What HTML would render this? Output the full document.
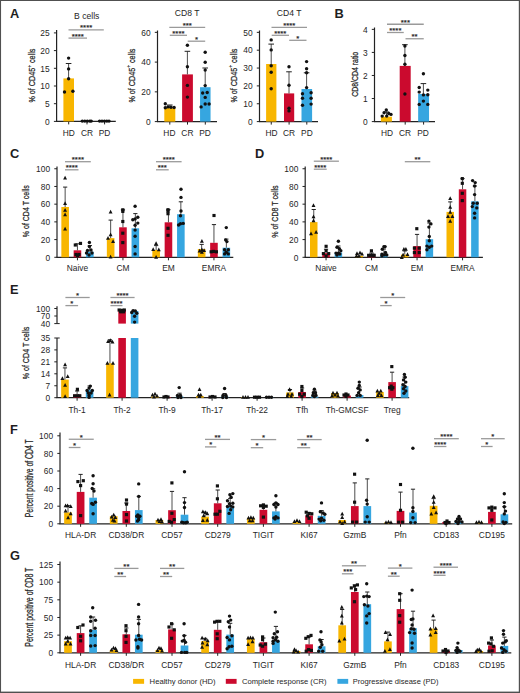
<!DOCTYPE html>
<html><head><meta charset="utf-8"><style>
html,body{margin:0;padding:0;background:#fff;overflow:hidden;width:520px;height:693px;}
svg{display:block;font-family:"Liberation Sans",sans-serif;}
</style></head><body>
<svg width="520" height="693" viewBox="0 0 520 693">
<rect x="0" y="0" width="520" height="693" fill="#fff"/>
<text x="9.90" y="17.60" font-size="12.8" text-anchor="start" font-weight="bold" fill="#1e1e1e">A</text>
<text x="86.70" y="18.60" font-size="8.6" text-anchor="middle" font-weight="normal" fill="#262626">B cells</text>
<line x1="56.60" y1="30.00" x2="56.60" y2="121.40" stroke="#222222" stroke-width="1.2"/>
<line x1="53.90" y1="32.90" x2="56.60" y2="32.90" stroke="#222222" stroke-width="1.0"/>
<text x="49.70" y="36.10" font-size="8.4" text-anchor="end" font-weight="normal" fill="#262626">25</text>
<line x1="53.90" y1="50.60" x2="56.60" y2="50.60" stroke="#222222" stroke-width="1.0"/>
<text x="49.70" y="53.80" font-size="8.4" text-anchor="end" font-weight="normal" fill="#262626">20</text>
<line x1="53.90" y1="68.30" x2="56.60" y2="68.30" stroke="#222222" stroke-width="1.0"/>
<text x="49.70" y="71.50" font-size="8.4" text-anchor="end" font-weight="normal" fill="#262626">15</text>
<line x1="53.90" y1="86.00" x2="56.60" y2="86.00" stroke="#222222" stroke-width="1.0"/>
<text x="49.70" y="89.20" font-size="8.4" text-anchor="end" font-weight="normal" fill="#262626">10</text>
<line x1="53.90" y1="103.70" x2="56.60" y2="103.70" stroke="#222222" stroke-width="1.0"/>
<text x="49.70" y="106.90" font-size="8.4" text-anchor="end" font-weight="normal" fill="#262626">5</text>
<line x1="53.90" y1="121.40" x2="56.60" y2="121.40" stroke="#222222" stroke-width="1.0"/>
<text x="49.70" y="124.60" font-size="8.4" text-anchor="end" font-weight="normal" fill="#262626">0</text>
<line x1="56.00" y1="121.40" x2="115.80" y2="121.40" stroke="#222222" stroke-width="1.2"/>
<line x1="68.70" y1="121.40" x2="68.70" y2="124.40" stroke="#222222" stroke-width="1.0"/>
<line x1="87.00" y1="121.40" x2="87.00" y2="124.40" stroke="#222222" stroke-width="1.0"/>
<line x1="104.60" y1="121.40" x2="104.60" y2="124.40" stroke="#222222" stroke-width="1.0"/>
<rect x="63.40" y="78.40" width="10.60" height="43.00" fill="#F8B600"/>
<line x1="68.60" y1="63.50" x2="68.60" y2="78.40" stroke="#3a3a3a" stroke-width="0.9"/>
<line x1="65.80" y1="63.50" x2="71.40" y2="63.50" stroke="#222" stroke-width="1.0"/>
<circle cx="68.60" cy="58.10" r="1.7" fill="#111"/>
<circle cx="68.60" cy="68.90" r="1.7" fill="#111"/>
<circle cx="68.60" cy="78.70" r="1.7" fill="#111"/>
<circle cx="64.50" cy="92.00" r="1.7" fill="#111"/>
<circle cx="72.90" cy="91.30" r="1.7" fill="#111"/>
<circle cx="82.30" cy="121.10" r="1.7" fill="#111"/>
<circle cx="84.80" cy="121.10" r="1.7" fill="#111"/>
<circle cx="87.30" cy="121.10" r="1.7" fill="#111"/>
<circle cx="89.80" cy="121.10" r="1.7" fill="#111"/>
<circle cx="91.20" cy="121.10" r="1.7" fill="#111"/>
<circle cx="99.60" cy="121.10" r="1.7" fill="#111"/>
<circle cx="102.00" cy="121.10" r="1.7" fill="#111"/>
<circle cx="104.40" cy="121.10" r="1.7" fill="#111"/>
<circle cx="106.80" cy="121.10" r="1.7" fill="#111"/>
<circle cx="109.00" cy="121.10" r="1.7" fill="#111"/>
<line x1="68.50" y1="29.90" x2="103.80" y2="29.90" stroke="#9a9a9a" stroke-width="1.3"/>
<text x="86.15" y="30.00" font-size="7.8" text-anchor="middle" font-weight="normal" fill="#222" stroke="#222" stroke-width="0.2">****</text>
<line x1="68.50" y1="38.10" x2="87.00" y2="38.10" stroke="#9a9a9a" stroke-width="1.3"/>
<text x="77.75" y="39.00" font-size="7.8" text-anchor="middle" font-weight="normal" fill="#222" stroke="#222" stroke-width="0.2">****</text>
<text transform="translate(34.80,75.60) rotate(-90)" font-size="9.2" text-anchor="middle" font-weight="normal" fill="#262626" textLength="54.00" lengthAdjust="spacingAndGlyphs" stroke="#262626" stroke-width="0.25">% of CD45<tspan font-size="6.2" dy="-4.2">+</tspan><tspan dy="4.2"> cells</tspan></text>
<text x="68.70" y="135.90" font-size="8.4" text-anchor="middle" font-weight="normal" fill="#262626">HD</text>
<text x="87.00" y="135.90" font-size="8.4" text-anchor="middle" font-weight="normal" fill="#262626">CR</text>
<text x="104.60" y="135.90" font-size="8.4" text-anchor="middle" font-weight="normal" fill="#262626">PD</text>
<text x="187.10" y="16.30" font-size="8.6" text-anchor="middle" font-weight="normal" fill="#262626">CD8 T</text>
<line x1="157.50" y1="30.50" x2="157.50" y2="121.60" stroke="#222222" stroke-width="1.2"/>
<line x1="154.80" y1="32.35" x2="157.50" y2="32.35" stroke="#222222" stroke-width="1.0"/>
<text x="150.60" y="35.55" font-size="8.4" text-anchor="end" font-weight="normal" fill="#262626">60</text>
<line x1="154.80" y1="62.10" x2="157.50" y2="62.10" stroke="#222222" stroke-width="1.0"/>
<text x="150.60" y="65.30" font-size="8.4" text-anchor="end" font-weight="normal" fill="#262626">40</text>
<line x1="154.80" y1="91.85" x2="157.50" y2="91.85" stroke="#222222" stroke-width="1.0"/>
<text x="150.60" y="95.05" font-size="8.4" text-anchor="end" font-weight="normal" fill="#262626">20</text>
<line x1="154.80" y1="121.60" x2="157.50" y2="121.60" stroke="#222222" stroke-width="1.0"/>
<text x="150.60" y="124.80" font-size="8.4" text-anchor="end" font-weight="normal" fill="#262626">0</text>
<line x1="156.90" y1="121.60" x2="217.00" y2="121.60" stroke="#222222" stroke-width="1.2"/>
<line x1="169.80" y1="121.60" x2="169.80" y2="124.60" stroke="#222222" stroke-width="1.0"/>
<line x1="187.50" y1="121.60" x2="187.50" y2="124.60" stroke="#222222" stroke-width="1.0"/>
<line x1="205.30" y1="121.60" x2="205.30" y2="124.60" stroke="#222222" stroke-width="1.0"/>
<rect x="164.30" y="108.10" width="11.00" height="13.50" fill="#F8B600"/>
<rect x="182.10" y="74.40" width="10.80" height="47.20" fill="#CB0A2E"/>
<rect x="200.05" y="87.20" width="10.50" height="34.40" fill="#36A6E0"/>
<line x1="169.80" y1="105.00" x2="169.80" y2="108.10" stroke="#3a3a3a" stroke-width="0.9"/>
<line x1="167.00" y1="105.00" x2="172.60" y2="105.00" stroke="#222" stroke-width="1.0"/>
<line x1="187.40" y1="51.30" x2="187.40" y2="74.40" stroke="#3a3a3a" stroke-width="0.9"/>
<line x1="184.60" y1="51.30" x2="190.20" y2="51.30" stroke="#222" stroke-width="1.0"/>
<line x1="205.20" y1="68.00" x2="205.20" y2="87.20" stroke="#3a3a3a" stroke-width="0.9"/>
<line x1="202.40" y1="68.00" x2="208.00" y2="68.00" stroke="#222" stroke-width="1.0"/>
<circle cx="165.30" cy="103.80" r="1.7" fill="#111"/>
<circle cx="165.30" cy="107.70" r="1.7" fill="#111"/>
<circle cx="168.00" cy="106.90" r="1.7" fill="#111"/>
<circle cx="171.00" cy="107.20" r="1.7" fill="#111"/>
<circle cx="174.10" cy="107.50" r="1.7" fill="#111"/>
<circle cx="187.40" cy="45.20" r="1.7" fill="#111"/>
<circle cx="187.40" cy="66.70" r="1.7" fill="#111"/>
<circle cx="187.40" cy="85.40" r="1.7" fill="#111"/>
<circle cx="187.40" cy="97.10" r="1.7" fill="#111"/>
<circle cx="205.20" cy="52.30" r="1.7" fill="#111"/>
<circle cx="205.20" cy="62.30" r="1.7" fill="#111"/>
<circle cx="205.20" cy="70.10" r="1.7" fill="#111"/>
<circle cx="205.20" cy="85.60" r="1.7" fill="#111"/>
<circle cx="202.70" cy="93.00" r="1.7" fill="#111"/>
<circle cx="207.20" cy="92.50" r="1.7" fill="#111"/>
<circle cx="205.20" cy="97.40" r="1.7" fill="#111"/>
<circle cx="205.20" cy="104.00" r="1.7" fill="#111"/>
<circle cx="209.10" cy="104.00" r="1.7" fill="#111"/>
<circle cx="201.10" cy="106.90" r="1.7" fill="#111"/>
<line x1="169.30" y1="27.40" x2="205.20" y2="27.40" stroke="#9a9a9a" stroke-width="1.3"/>
<text x="187.25" y="28.00" font-size="7.8" text-anchor="middle" font-weight="normal" fill="#222" stroke="#222" stroke-width="0.2">***</text>
<line x1="169.80" y1="35.30" x2="187.00" y2="35.30" stroke="#9a9a9a" stroke-width="1.3"/>
<text x="178.40" y="36.00" font-size="7.8" text-anchor="middle" font-weight="normal" fill="#222" stroke="#222" stroke-width="0.2">****</text>
<line x1="187.70" y1="41.20" x2="205.20" y2="41.20" stroke="#9a9a9a" stroke-width="1.3"/>
<text x="196.45" y="42.00" font-size="7.8" text-anchor="middle" font-weight="normal" fill="#222" stroke="#222" stroke-width="0.2">*</text>
<text transform="translate(134.60,75.60) rotate(-90)" font-size="9.2" text-anchor="middle" font-weight="normal" fill="#262626" textLength="54.00" lengthAdjust="spacingAndGlyphs" stroke="#262626" stroke-width="0.25">% of CD45<tspan font-size="6.2" dy="-4.2">+</tspan><tspan dy="4.2"> cells</tspan></text>
<text x="169.40" y="135.90" font-size="8.4" text-anchor="middle" font-weight="normal" fill="#262626">HD</text>
<text x="187.40" y="135.90" font-size="8.4" text-anchor="middle" font-weight="normal" fill="#262626">CR</text>
<text x="205.10" y="135.90" font-size="8.4" text-anchor="middle" font-weight="normal" fill="#262626">PD</text>
<text x="289.20" y="16.20" font-size="8.6" text-anchor="middle" font-weight="normal" fill="#262626">CD4 T</text>
<line x1="259.50" y1="30.50" x2="259.50" y2="121.60" stroke="#222222" stroke-width="1.2"/>
<line x1="256.80" y1="32.35" x2="259.50" y2="32.35" stroke="#222222" stroke-width="1.0"/>
<text x="252.60" y="35.55" font-size="8.4" text-anchor="end" font-weight="normal" fill="#262626">50</text>
<line x1="256.80" y1="50.20" x2="259.50" y2="50.20" stroke="#222222" stroke-width="1.0"/>
<text x="252.60" y="53.40" font-size="8.4" text-anchor="end" font-weight="normal" fill="#262626">40</text>
<line x1="256.80" y1="68.05" x2="259.50" y2="68.05" stroke="#222222" stroke-width="1.0"/>
<text x="252.60" y="71.25" font-size="8.4" text-anchor="end" font-weight="normal" fill="#262626">30</text>
<line x1="256.80" y1="85.90" x2="259.50" y2="85.90" stroke="#222222" stroke-width="1.0"/>
<text x="252.60" y="89.10" font-size="8.4" text-anchor="end" font-weight="normal" fill="#262626">20</text>
<line x1="256.80" y1="103.75" x2="259.50" y2="103.75" stroke="#222222" stroke-width="1.0"/>
<text x="252.60" y="106.95" font-size="8.4" text-anchor="end" font-weight="normal" fill="#262626">10</text>
<line x1="256.80" y1="121.60" x2="259.50" y2="121.60" stroke="#222222" stroke-width="1.0"/>
<text x="252.60" y="124.80" font-size="8.4" text-anchor="end" font-weight="normal" fill="#262626">0</text>
<line x1="258.90" y1="121.60" x2="318.00" y2="121.60" stroke="#222222" stroke-width="1.2"/>
<line x1="271.25" y1="121.60" x2="271.25" y2="124.60" stroke="#222222" stroke-width="1.0"/>
<line x1="289.10" y1="121.60" x2="289.10" y2="124.60" stroke="#222222" stroke-width="1.0"/>
<line x1="306.80" y1="121.60" x2="306.80" y2="124.60" stroke="#222222" stroke-width="1.0"/>
<rect x="266.10" y="64.00" width="10.30" height="57.60" fill="#F8B600"/>
<rect x="284.00" y="93.40" width="10.20" height="28.20" fill="#CB0A2E"/>
<rect x="301.50" y="89.00" width="10.60" height="32.60" fill="#36A6E0"/>
<line x1="271.20" y1="44.10" x2="271.20" y2="64.00" stroke="#3a3a3a" stroke-width="0.9"/>
<line x1="268.40" y1="44.10" x2="274.00" y2="44.10" stroke="#222" stroke-width="1.0"/>
<line x1="289.00" y1="71.80" x2="289.00" y2="93.40" stroke="#3a3a3a" stroke-width="0.9"/>
<line x1="286.20" y1="71.80" x2="291.80" y2="71.80" stroke="#222" stroke-width="1.0"/>
<line x1="306.60" y1="72.80" x2="306.60" y2="89.00" stroke="#3a3a3a" stroke-width="0.9"/>
<line x1="303.80" y1="72.80" x2="309.40" y2="72.80" stroke="#222" stroke-width="1.0"/>
<circle cx="271.20" cy="39.90" r="1.7" fill="#111"/>
<circle cx="271.20" cy="49.90" r="1.7" fill="#111"/>
<circle cx="271.20" cy="65.70" r="1.7" fill="#111"/>
<circle cx="271.20" cy="72.20" r="1.7" fill="#111"/>
<circle cx="271.20" cy="88.70" r="1.7" fill="#111"/>
<circle cx="289.00" cy="66.80" r="1.7" fill="#111"/>
<circle cx="289.00" cy="85.30" r="1.7" fill="#111"/>
<circle cx="289.00" cy="108.20" r="1.7" fill="#111"/>
<circle cx="289.00" cy="110.90" r="1.7" fill="#111"/>
<circle cx="306.60" cy="61.60" r="1.7" fill="#111"/>
<circle cx="306.60" cy="68.70" r="1.7" fill="#111"/>
<circle cx="306.60" cy="72.80" r="1.7" fill="#111"/>
<circle cx="306.60" cy="87.60" r="1.7" fill="#111"/>
<circle cx="302.50" cy="93.80" r="1.7" fill="#111"/>
<circle cx="311.10" cy="92.80" r="1.7" fill="#111"/>
<circle cx="302.50" cy="98.30" r="1.7" fill="#111"/>
<circle cx="311.10" cy="98.30" r="1.7" fill="#111"/>
<circle cx="302.50" cy="105.20" r="1.7" fill="#111"/>
<circle cx="311.10" cy="104.10" r="1.7" fill="#111"/>
<line x1="271.50" y1="27.40" x2="307.00" y2="27.40" stroke="#9a9a9a" stroke-width="1.3"/>
<text x="289.25" y="28.00" font-size="7.8" text-anchor="middle" font-weight="normal" fill="#222" stroke="#222" stroke-width="0.2">****</text>
<line x1="271.70" y1="35.30" x2="289.00" y2="35.30" stroke="#9a9a9a" stroke-width="1.3"/>
<text x="280.35" y="36.00" font-size="7.8" text-anchor="middle" font-weight="normal" fill="#222" stroke="#222" stroke-width="0.2">****</text>
<line x1="289.20" y1="40.30" x2="306.50" y2="40.30" stroke="#9a9a9a" stroke-width="1.3"/>
<text x="297.85" y="41.00" font-size="7.8" text-anchor="middle" font-weight="normal" fill="#222" stroke="#222" stroke-width="0.2">*</text>
<text transform="translate(236.50,75.60) rotate(-90)" font-size="9.2" text-anchor="middle" font-weight="normal" fill="#262626" textLength="54.00" lengthAdjust="spacingAndGlyphs" stroke="#262626" stroke-width="0.25">% of CD45<tspan font-size="6.2" dy="-4.2">+</tspan><tspan dy="4.2"> cells</tspan></text>
<text x="271.60" y="135.90" font-size="8.4" text-anchor="middle" font-weight="normal" fill="#262626">HD</text>
<text x="289.10" y="135.90" font-size="8.4" text-anchor="middle" font-weight="normal" fill="#262626">CR</text>
<text x="306.90" y="135.90" font-size="8.4" text-anchor="middle" font-weight="normal" fill="#262626">PD</text>
<text x="334.60" y="17.60" font-size="12.8" text-anchor="start" font-weight="bold" fill="#1e1e1e">B</text>
<line x1="374.50" y1="27.50" x2="374.50" y2="121.60" stroke="#222222" stroke-width="1.2"/>
<line x1="371.80" y1="29.36" x2="374.50" y2="29.36" stroke="#222222" stroke-width="1.0"/>
<text x="367.60" y="32.56" font-size="8.4" text-anchor="end" font-weight="normal" fill="#262626">4</text>
<line x1="371.80" y1="52.42" x2="374.50" y2="52.42" stroke="#222222" stroke-width="1.0"/>
<text x="367.60" y="55.62" font-size="8.4" text-anchor="end" font-weight="normal" fill="#262626">3</text>
<line x1="371.80" y1="75.48" x2="374.50" y2="75.48" stroke="#222222" stroke-width="1.0"/>
<text x="367.60" y="78.68" font-size="8.4" text-anchor="end" font-weight="normal" fill="#262626">2</text>
<line x1="371.80" y1="98.54" x2="374.50" y2="98.54" stroke="#222222" stroke-width="1.0"/>
<text x="367.60" y="101.74" font-size="8.4" text-anchor="end" font-weight="normal" fill="#262626">1</text>
<line x1="371.80" y1="121.60" x2="374.50" y2="121.60" stroke="#222222" stroke-width="1.0"/>
<text x="367.60" y="124.80" font-size="8.4" text-anchor="end" font-weight="normal" fill="#262626">0</text>
<line x1="373.90" y1="121.60" x2="435.00" y2="121.60" stroke="#222222" stroke-width="1.2"/>
<line x1="386.40" y1="121.60" x2="386.40" y2="124.60" stroke="#222222" stroke-width="1.0"/>
<line x1="405.20" y1="121.60" x2="405.20" y2="124.60" stroke="#222222" stroke-width="1.0"/>
<line x1="423.60" y1="121.60" x2="423.60" y2="124.60" stroke="#222222" stroke-width="1.0"/>
<rect x="380.90" y="116.70" width="11.00" height="4.90" fill="#F8B600"/>
<rect x="399.70" y="65.90" width="11.00" height="55.70" fill="#CB0A2E"/>
<rect x="418.15" y="94.00" width="10.90" height="27.60" fill="#36A6E0"/>
<line x1="386.50" y1="112.00" x2="386.50" y2="116.70" stroke="#3a3a3a" stroke-width="0.9"/>
<line x1="383.70" y1="112.00" x2="389.30" y2="112.00" stroke="#222" stroke-width="1.0"/>
<line x1="404.90" y1="44.70" x2="404.90" y2="65.90" stroke="#3a3a3a" stroke-width="0.9"/>
<line x1="402.10" y1="44.70" x2="407.70" y2="44.70" stroke="#222" stroke-width="1.0"/>
<line x1="423.40" y1="83.60" x2="423.40" y2="94.00" stroke="#3a3a3a" stroke-width="0.9"/>
<line x1="420.60" y1="83.60" x2="426.20" y2="83.60" stroke="#222" stroke-width="1.0"/>
<circle cx="386.30" cy="110.00" r="1.7" fill="#111"/>
<circle cx="384.10" cy="112.80" r="1.7" fill="#111"/>
<circle cx="388.70" cy="113.50" r="1.7" fill="#111"/>
<circle cx="382.20" cy="116.10" r="1.7" fill="#111"/>
<circle cx="391.00" cy="114.40" r="1.7" fill="#111"/>
<circle cx="386.70" cy="116.10" r="1.7" fill="#111"/>
<circle cx="404.90" cy="46.00" r="1.7" fill="#111"/>
<circle cx="404.90" cy="55.50" r="1.7" fill="#111"/>
<circle cx="404.90" cy="64.20" r="1.7" fill="#111"/>
<circle cx="404.90" cy="94.00" r="1.7" fill="#111"/>
<circle cx="423.40" cy="73.70" r="1.7" fill="#111"/>
<circle cx="419.20" cy="87.50" r="1.7" fill="#111"/>
<circle cx="427.80" cy="90.10" r="1.7" fill="#111"/>
<circle cx="419.20" cy="92.10" r="1.7" fill="#111"/>
<circle cx="423.40" cy="94.90" r="1.7" fill="#111"/>
<circle cx="427.80" cy="94.70" r="1.7" fill="#111"/>
<circle cx="423.40" cy="101.10" r="1.7" fill="#111"/>
<circle cx="419.20" cy="104.40" r="1.7" fill="#111"/>
<circle cx="427.80" cy="104.40" r="1.7" fill="#111"/>
<line x1="387.00" y1="24.25" x2="423.75" y2="24.25" stroke="#9a9a9a" stroke-width="1.3"/>
<text x="405.38" y="25.00" font-size="7.8" text-anchor="middle" font-weight="normal" fill="#222" stroke="#222" stroke-width="0.2">***</text>
<line x1="387.00" y1="32.50" x2="403.75" y2="32.50" stroke="#9a9a9a" stroke-width="1.3"/>
<text x="395.38" y="33.00" font-size="7.8" text-anchor="middle" font-weight="normal" fill="#222" stroke="#222" stroke-width="0.2">****</text>
<line x1="405.50" y1="38.75" x2="423.75" y2="38.75" stroke="#9a9a9a" stroke-width="1.3"/>
<text x="414.62" y="39.00" font-size="7.8" text-anchor="middle" font-weight="normal" fill="#222" stroke="#222" stroke-width="0.2">**</text>
<text transform="translate(358.20,74.30) rotate(-90)" font-size="9.2" text-anchor="middle" font-weight="normal" fill="#262626" textLength="45.00" lengthAdjust="spacingAndGlyphs" stroke="#262626" stroke-width="0.25">CD8/CD4 ratio</text>
<text x="387.00" y="135.90" font-size="8.4" text-anchor="middle" font-weight="normal" fill="#262626">HD</text>
<text x="405.00" y="135.90" font-size="8.4" text-anchor="middle" font-weight="normal" fill="#262626">CR</text>
<text x="423.10" y="135.90" font-size="8.4" text-anchor="middle" font-weight="normal" fill="#262626">PD</text>
<text x="9.90" y="157.90" font-size="12.8" text-anchor="start" font-weight="bold" fill="#1e1e1e">C</text>
<line x1="57.00" y1="166.50" x2="57.00" y2="257.30" stroke="#222222" stroke-width="1.2"/>
<line x1="54.30" y1="168.75" x2="57.00" y2="168.75" stroke="#222222" stroke-width="1.0"/>
<text x="50.10" y="171.95" font-size="8.4" text-anchor="end" font-weight="normal" fill="#262626">100</text>
<line x1="54.30" y1="186.46" x2="57.00" y2="186.46" stroke="#222222" stroke-width="1.0"/>
<text x="50.10" y="189.66" font-size="8.4" text-anchor="end" font-weight="normal" fill="#262626">80</text>
<line x1="54.30" y1="204.17" x2="57.00" y2="204.17" stroke="#222222" stroke-width="1.0"/>
<text x="50.10" y="207.37" font-size="8.4" text-anchor="end" font-weight="normal" fill="#262626">60</text>
<line x1="54.30" y1="221.88" x2="57.00" y2="221.88" stroke="#222222" stroke-width="1.0"/>
<text x="50.10" y="225.08" font-size="8.4" text-anchor="end" font-weight="normal" fill="#262626">40</text>
<line x1="54.30" y1="239.59" x2="57.00" y2="239.59" stroke="#222222" stroke-width="1.0"/>
<text x="50.10" y="242.79" font-size="8.4" text-anchor="end" font-weight="normal" fill="#262626">20</text>
<line x1="54.30" y1="257.30" x2="57.00" y2="257.30" stroke="#222222" stroke-width="1.0"/>
<text x="50.10" y="260.50" font-size="8.4" text-anchor="end" font-weight="normal" fill="#262626">0</text>
<line x1="56.40" y1="257.30" x2="233.30" y2="257.30" stroke="#222222" stroke-width="1.2"/>
<line x1="77.45" y1="257.30" x2="77.45" y2="260.30" stroke="#222222" stroke-width="1.0"/>
<line x1="122.95" y1="257.30" x2="122.95" y2="260.30" stroke="#222222" stroke-width="1.0"/>
<line x1="168.45" y1="257.30" x2="168.45" y2="260.30" stroke="#222222" stroke-width="1.0"/>
<line x1="213.95" y1="257.30" x2="213.95" y2="260.30" stroke="#222222" stroke-width="1.0"/>
<rect x="61.35" y="207.00" width="7.60" height="50.30" fill="#F8B600"/>
<rect x="73.65" y="250.30" width="7.60" height="7.00" fill="#CB0A2E"/>
<rect x="86.05" y="251.80" width="7.60" height="5.50" fill="#36A6E0"/>
<rect x="106.85" y="238.10" width="7.60" height="19.20" fill="#F8B600"/>
<rect x="119.15" y="227.30" width="7.60" height="30.00" fill="#CB0A2E"/>
<rect x="131.55" y="228.30" width="7.60" height="29.00" fill="#36A6E0"/>
<rect x="152.35" y="250.00" width="7.60" height="7.30" fill="#F8B600"/>
<rect x="164.65" y="222.30" width="7.60" height="35.00" fill="#CB0A2E"/>
<rect x="177.05" y="214.20" width="7.60" height="43.10" fill="#36A6E0"/>
<rect x="197.85" y="249.00" width="7.60" height="8.30" fill="#F8B600"/>
<rect x="210.15" y="242.80" width="7.60" height="14.50" fill="#CB0A2E"/>
<rect x="222.55" y="247.70" width="7.60" height="9.60" fill="#36A6E0"/>
<line x1="65.15" y1="187.10" x2="65.15" y2="207.00" stroke="#3a3a3a" stroke-width="0.9"/>
<line x1="63.05" y1="187.10" x2="67.25" y2="187.10" stroke="#222" stroke-width="1.0"/>
<line x1="77.45" y1="243.80" x2="77.45" y2="250.30" stroke="#3a3a3a" stroke-width="0.9"/>
<line x1="75.35" y1="243.80" x2="79.55" y2="243.80" stroke="#222" stroke-width="1.0"/>
<line x1="89.85" y1="245.50" x2="89.85" y2="251.80" stroke="#3a3a3a" stroke-width="0.9"/>
<line x1="87.75" y1="245.50" x2="91.95" y2="245.50" stroke="#222" stroke-width="1.0"/>
<line x1="110.65" y1="220.10" x2="110.65" y2="238.10" stroke="#3a3a3a" stroke-width="0.9"/>
<line x1="108.55" y1="220.10" x2="112.75" y2="220.10" stroke="#222" stroke-width="1.0"/>
<line x1="122.95" y1="209.80" x2="122.95" y2="227.30" stroke="#3a3a3a" stroke-width="0.9"/>
<line x1="120.85" y1="209.80" x2="125.05" y2="209.80" stroke="#222" stroke-width="1.0"/>
<line x1="135.35" y1="213.60" x2="135.35" y2="228.30" stroke="#3a3a3a" stroke-width="0.9"/>
<line x1="133.25" y1="213.60" x2="137.45" y2="213.60" stroke="#222" stroke-width="1.0"/>
<line x1="156.15" y1="245.60" x2="156.15" y2="250.00" stroke="#3a3a3a" stroke-width="0.9"/>
<line x1="154.05" y1="245.60" x2="158.25" y2="245.60" stroke="#222" stroke-width="1.0"/>
<line x1="168.45" y1="209.70" x2="168.45" y2="222.30" stroke="#3a3a3a" stroke-width="0.9"/>
<line x1="166.35" y1="209.70" x2="170.55" y2="209.70" stroke="#222" stroke-width="1.0"/>
<line x1="180.85" y1="201.80" x2="180.85" y2="214.20" stroke="#3a3a3a" stroke-width="0.9"/>
<line x1="178.75" y1="201.80" x2="182.95" y2="201.80" stroke="#222" stroke-width="1.0"/>
<line x1="201.65" y1="244.40" x2="201.65" y2="249.00" stroke="#3a3a3a" stroke-width="0.9"/>
<line x1="199.55" y1="244.40" x2="203.75" y2="244.40" stroke="#222" stroke-width="1.0"/>
<line x1="213.95" y1="224.60" x2="213.95" y2="242.80" stroke="#3a3a3a" stroke-width="0.9"/>
<line x1="211.85" y1="224.60" x2="216.05" y2="224.60" stroke="#222" stroke-width="1.0"/>
<line x1="226.35" y1="239.10" x2="226.35" y2="247.70" stroke="#3a3a3a" stroke-width="0.9"/>
<line x1="224.25" y1="239.10" x2="228.45" y2="239.10" stroke="#222" stroke-width="1.0"/>
<path d="M65.10 175.86L67.05 179.60L63.14 179.60Z" fill="#111"/>
<path d="M65.10 201.26L67.05 205.00L63.14 205.00Z" fill="#111"/>
<path d="M65.10 208.06L67.05 211.80L63.14 211.80Z" fill="#111"/>
<path d="M65.10 212.56L67.05 216.30L63.14 216.30Z" fill="#111"/>
<path d="M65.10 226.86L67.05 230.60L63.14 230.60Z" fill="#111"/>
<rect x="73.73" y="243.43" width="3.15" height="3.15" fill="#111"/>
<rect x="78.93" y="241.83" width="3.15" height="3.15" fill="#111"/>
<rect x="74.43" y="252.93" width="3.15" height="3.15" fill="#111"/>
<rect x="77.43" y="252.93" width="3.15" height="3.15" fill="#111"/>
<rect x="75.93" y="253.93" width="3.15" height="3.15" fill="#111"/>
<circle cx="89.40" cy="242.50" r="1.7" fill="#111"/>
<circle cx="89.40" cy="246.60" r="1.7" fill="#111"/>
<circle cx="86.50" cy="253.00" r="1.7" fill="#111"/>
<circle cx="92.00" cy="253.00" r="1.7" fill="#111"/>
<circle cx="89.00" cy="255.00" r="1.7" fill="#111"/>
<circle cx="87.50" cy="250.50" r="1.7" fill="#111"/>
<circle cx="91.00" cy="250.00" r="1.7" fill="#111"/>
<path d="M110.60 209.66L112.55 213.40L108.64 213.40Z" fill="#111"/>
<path d="M110.60 232.56L112.55 236.30L108.64 236.30Z" fill="#111"/>
<path d="M108.00 236.06L109.95 239.80L106.05 239.80Z" fill="#111"/>
<path d="M113.10 239.16L115.05 242.90L111.14 242.90Z" fill="#111"/>
<path d="M110.60 254.66L112.55 258.40L108.64 258.40Z" fill="#111"/>
<rect x="121.23" y="208.23" width="3.15" height="3.15" fill="#111"/>
<rect x="121.23" y="209.83" width="3.15" height="3.15" fill="#111"/>
<rect x="121.23" y="219.93" width="3.15" height="3.15" fill="#111"/>
<rect x="121.23" y="231.63" width="3.15" height="3.15" fill="#111"/>
<rect x="121.23" y="241.03" width="3.15" height="3.15" fill="#111"/>
<circle cx="135.10" cy="206.20" r="1.7" fill="#111"/>
<circle cx="137.80" cy="217.30" r="1.7" fill="#111"/>
<circle cx="132.80" cy="219.80" r="1.7" fill="#111"/>
<circle cx="135.10" cy="218.90" r="1.7" fill="#111"/>
<circle cx="137.80" cy="223.10" r="1.7" fill="#111"/>
<circle cx="135.10" cy="225.20" r="1.7" fill="#111"/>
<circle cx="135.10" cy="230.10" r="1.7" fill="#111"/>
<circle cx="135.10" cy="236.20" r="1.7" fill="#111"/>
<circle cx="135.10" cy="246.50" r="1.7" fill="#111"/>
<circle cx="135.10" cy="253.90" r="1.7" fill="#111"/>
<path d="M156.10 241.16L158.06 244.90L154.14 244.90Z" fill="#111"/>
<path d="M153.20 247.16L155.16 250.90L151.24 250.90Z" fill="#111"/>
<path d="M158.80 247.46L160.76 251.20L156.84 251.20Z" fill="#111"/>
<path d="M156.10 255.06L158.06 258.80L154.14 258.80Z" fill="#111"/>
<rect x="166.43" y="208.13" width="3.15" height="3.15" fill="#111"/>
<rect x="166.43" y="209.43" width="3.15" height="3.15" fill="#111"/>
<rect x="166.43" y="212.13" width="3.15" height="3.15" fill="#111"/>
<rect x="166.43" y="226.73" width="3.15" height="3.15" fill="#111"/>
<rect x="166.43" y="233.73" width="3.15" height="3.15" fill="#111"/>
<circle cx="181.00" cy="189.30" r="1.7" fill="#111"/>
<circle cx="181.00" cy="197.40" r="1.7" fill="#111"/>
<circle cx="181.00" cy="211.00" r="1.7" fill="#111"/>
<circle cx="180.50" cy="215.80" r="1.7" fill="#111"/>
<circle cx="178.60" cy="225.00" r="1.7" fill="#111"/>
<circle cx="180.50" cy="223.70" r="1.7" fill="#111"/>
<circle cx="183.20" cy="223.40" r="1.7" fill="#111"/>
<path d="M201.90 238.96L203.86 242.70L199.94 242.70Z" fill="#111"/>
<path d="M201.90 247.56L203.86 251.30L199.94 251.30Z" fill="#111"/>
<path d="M199.60 248.76L201.56 252.50L197.64 252.50Z" fill="#111"/>
<path d="M204.10 248.36L206.06 252.10L202.14 252.10Z" fill="#111"/>
<path d="M201.90 249.96L203.86 253.70L199.94 253.70Z" fill="#111"/>
<rect x="212.43" y="213.93" width="3.15" height="3.15" fill="#111"/>
<rect x="209.53" y="250.23" width="3.15" height="3.15" fill="#111"/>
<rect x="214.83" y="250.23" width="3.15" height="3.15" fill="#111"/>
<rect x="211.83" y="249.83" width="3.15" height="3.15" fill="#111"/>
<circle cx="226.30" cy="227.60" r="1.7" fill="#111"/>
<circle cx="225.70" cy="239.90" r="1.7" fill="#111"/>
<circle cx="226.90" cy="241.60" r="1.7" fill="#111"/>
<circle cx="224.60" cy="249.80" r="1.7" fill="#111"/>
<circle cx="228.30" cy="249.80" r="1.7" fill="#111"/>
<circle cx="224.60" cy="253.90" r="1.7" fill="#111"/>
<circle cx="228.30" cy="253.90" r="1.7" fill="#111"/>
<circle cx="226.30" cy="252.20" r="1.7" fill="#111"/>
<line x1="65.00" y1="161.70" x2="90.80" y2="161.70" stroke="#9a9a9a" stroke-width="1.3"/>
<text x="77.90" y="162.00" font-size="7.8" text-anchor="middle" font-weight="normal" fill="#222" stroke="#222" stroke-width="0.2">****</text>
<line x1="65.00" y1="169.80" x2="78.50" y2="169.80" stroke="#9a9a9a" stroke-width="1.3"/>
<text x="71.75" y="170.00" font-size="7.8" text-anchor="middle" font-weight="normal" fill="#222" stroke="#222" stroke-width="0.2">****</text>
<line x1="156.00" y1="161.70" x2="181.60" y2="161.70" stroke="#9a9a9a" stroke-width="1.3"/>
<text x="168.80" y="162.00" font-size="7.8" text-anchor="middle" font-weight="normal" fill="#222" stroke="#222" stroke-width="0.2">****</text>
<line x1="156.00" y1="169.80" x2="168.70" y2="169.80" stroke="#9a9a9a" stroke-width="1.3"/>
<text x="162.35" y="170.00" font-size="7.8" text-anchor="middle" font-weight="normal" fill="#222" stroke="#222" stroke-width="0.2">***</text>
<text transform="translate(29.30,211.20) rotate(-90)" font-size="9.2" text-anchor="middle" font-weight="normal" fill="#262626" textLength="52.00" lengthAdjust="spacingAndGlyphs" stroke="#262626" stroke-width="0.25">% of CD4 T cells</text>
<text x="77.45" y="271.40" font-size="8.4" text-anchor="middle" font-weight="normal" fill="#262626">Naive</text>
<text x="122.95" y="271.40" font-size="8.4" text-anchor="middle" font-weight="normal" fill="#262626">CM</text>
<text x="168.45" y="271.40" font-size="8.4" text-anchor="middle" font-weight="normal" fill="#262626">EM</text>
<text x="213.95" y="271.40" font-size="8.4" text-anchor="middle" font-weight="normal" fill="#262626">EMRA</text>
<text x="254.90" y="157.60" font-size="12.8" text-anchor="start" font-weight="bold" fill="#1e1e1e">D</text>
<line x1="305.20" y1="166.50" x2="305.20" y2="257.30" stroke="#222222" stroke-width="1.2"/>
<line x1="302.50" y1="168.75" x2="305.20" y2="168.75" stroke="#222222" stroke-width="1.0"/>
<text x="298.30" y="171.95" font-size="8.4" text-anchor="end" font-weight="normal" fill="#262626">100</text>
<line x1="302.50" y1="186.46" x2="305.20" y2="186.46" stroke="#222222" stroke-width="1.0"/>
<text x="298.30" y="189.66" font-size="8.4" text-anchor="end" font-weight="normal" fill="#262626">80</text>
<line x1="302.50" y1="204.17" x2="305.20" y2="204.17" stroke="#222222" stroke-width="1.0"/>
<text x="298.30" y="207.37" font-size="8.4" text-anchor="end" font-weight="normal" fill="#262626">60</text>
<line x1="302.50" y1="221.88" x2="305.20" y2="221.88" stroke="#222222" stroke-width="1.0"/>
<text x="298.30" y="225.08" font-size="8.4" text-anchor="end" font-weight="normal" fill="#262626">40</text>
<line x1="302.50" y1="239.59" x2="305.20" y2="239.59" stroke="#222222" stroke-width="1.0"/>
<text x="298.30" y="242.79" font-size="8.4" text-anchor="end" font-weight="normal" fill="#262626">20</text>
<line x1="302.50" y1="257.30" x2="305.20" y2="257.30" stroke="#222222" stroke-width="1.0"/>
<text x="298.30" y="260.50" font-size="8.4" text-anchor="end" font-weight="normal" fill="#262626">0</text>
<line x1="304.60" y1="257.30" x2="482.90" y2="257.30" stroke="#222222" stroke-width="1.2"/>
<line x1="326.05" y1="257.30" x2="326.05" y2="260.30" stroke="#222222" stroke-width="1.0"/>
<line x1="371.55" y1="257.30" x2="371.55" y2="260.30" stroke="#222222" stroke-width="1.0"/>
<line x1="417.05" y1="257.30" x2="417.05" y2="260.30" stroke="#222222" stroke-width="1.0"/>
<line x1="462.55" y1="257.30" x2="462.55" y2="260.30" stroke="#222222" stroke-width="1.0"/>
<rect x="310.00" y="222.10" width="7.50" height="35.20" fill="#F8B600"/>
<rect x="322.30" y="253.10" width="7.50" height="4.20" fill="#CB0A2E"/>
<rect x="334.65" y="252.60" width="7.50" height="4.70" fill="#36A6E0"/>
<rect x="355.50" y="255.80" width="7.50" height="1.50" fill="#F8B600"/>
<rect x="367.80" y="255.60" width="7.50" height="1.70" fill="#CB0A2E"/>
<rect x="380.15" y="254.50" width="7.50" height="2.80" fill="#36A6E0"/>
<rect x="401.00" y="254.60" width="7.50" height="2.70" fill="#F8B600"/>
<rect x="413.30" y="246.10" width="7.50" height="11.20" fill="#CB0A2E"/>
<rect x="425.65" y="239.20" width="7.50" height="18.10" fill="#36A6E0"/>
<rect x="446.50" y="211.90" width="7.50" height="45.40" fill="#F8B600"/>
<rect x="458.80" y="189.30" width="7.50" height="68.00" fill="#CB0A2E"/>
<rect x="471.15" y="201.30" width="7.50" height="56.00" fill="#36A6E0"/>
<line x1="313.75" y1="209.50" x2="313.75" y2="222.10" stroke="#3a3a3a" stroke-width="0.9"/>
<line x1="311.65" y1="209.50" x2="315.85" y2="209.50" stroke="#222" stroke-width="1.0"/>
<line x1="326.05" y1="249.20" x2="326.05" y2="253.10" stroke="#3a3a3a" stroke-width="0.9"/>
<line x1="323.95" y1="249.20" x2="328.15" y2="249.20" stroke="#222" stroke-width="1.0"/>
<line x1="338.40" y1="246.00" x2="338.40" y2="252.60" stroke="#3a3a3a" stroke-width="0.9"/>
<line x1="336.30" y1="246.00" x2="340.50" y2="246.00" stroke="#222" stroke-width="1.0"/>
<line x1="371.55" y1="253.00" x2="371.55" y2="255.60" stroke="#3a3a3a" stroke-width="0.9"/>
<line x1="369.45" y1="253.00" x2="373.65" y2="253.00" stroke="#222" stroke-width="1.0"/>
<line x1="383.90" y1="249.00" x2="383.90" y2="254.50" stroke="#3a3a3a" stroke-width="0.9"/>
<line x1="381.80" y1="249.00" x2="386.00" y2="249.00" stroke="#222" stroke-width="1.0"/>
<line x1="404.75" y1="251.00" x2="404.75" y2="254.60" stroke="#3a3a3a" stroke-width="0.9"/>
<line x1="402.65" y1="251.00" x2="406.85" y2="251.00" stroke="#222" stroke-width="1.0"/>
<line x1="417.05" y1="234.40" x2="417.05" y2="246.10" stroke="#3a3a3a" stroke-width="0.9"/>
<line x1="414.95" y1="234.40" x2="419.15" y2="234.40" stroke="#222" stroke-width="1.0"/>
<line x1="429.40" y1="223.00" x2="429.40" y2="239.20" stroke="#3a3a3a" stroke-width="0.9"/>
<line x1="427.30" y1="223.00" x2="431.50" y2="223.00" stroke="#222" stroke-width="1.0"/>
<line x1="450.25" y1="201.90" x2="450.25" y2="211.90" stroke="#3a3a3a" stroke-width="0.9"/>
<line x1="448.15" y1="201.90" x2="452.35" y2="201.90" stroke="#222" stroke-width="1.0"/>
<line x1="462.55" y1="178.60" x2="462.55" y2="189.30" stroke="#3a3a3a" stroke-width="0.9"/>
<line x1="460.45" y1="178.60" x2="464.65" y2="178.60" stroke="#222" stroke-width="1.0"/>
<line x1="474.90" y1="186.00" x2="474.90" y2="201.30" stroke="#3a3a3a" stroke-width="0.9"/>
<line x1="472.80" y1="186.00" x2="477.00" y2="186.00" stroke="#222" stroke-width="1.0"/>
<path d="M313.50 203.26L315.45 207.00L311.55 207.00Z" fill="#111"/>
<path d="M313.50 214.56L315.45 218.30L311.55 218.30Z" fill="#111"/>
<path d="M313.50 218.46L315.45 222.20L311.55 222.20Z" fill="#111"/>
<path d="M311.00 231.46L312.95 235.20L309.05 235.20Z" fill="#111"/>
<path d="M316.10 230.06L318.06 233.80L314.15 233.80Z" fill="#111"/>
<rect x="324.53" y="244.73" width="3.15" height="3.15" fill="#111"/>
<rect x="324.53" y="249.13" width="3.15" height="3.15" fill="#111"/>
<rect x="321.83" y="252.03" width="3.15" height="3.15" fill="#111"/>
<rect x="327.13" y="252.03" width="3.15" height="3.15" fill="#111"/>
<rect x="324.53" y="254.43" width="3.15" height="3.15" fill="#111"/>
<circle cx="338.40" cy="241.30" r="1.7" fill="#111"/>
<circle cx="337.00" cy="247.30" r="1.7" fill="#111"/>
<circle cx="339.40" cy="248.70" r="1.7" fill="#111"/>
<circle cx="340.80" cy="250.70" r="1.7" fill="#111"/>
<circle cx="336.00" cy="253.10" r="1.7" fill="#111"/>
<circle cx="338.40" cy="253.10" r="1.7" fill="#111"/>
<circle cx="339.80" cy="254.00" r="1.7" fill="#111"/>
<circle cx="337.00" cy="255.00" r="1.7" fill="#111"/>
<path d="M357.00 251.26L358.95 255.00L355.05 255.00Z" fill="#111"/>
<path d="M360.00 250.56L361.95 254.30L358.05 254.30Z" fill="#111"/>
<path d="M362.00 251.76L363.95 255.50L360.05 255.50Z" fill="#111"/>
<path d="M356.50 253.76L358.45 257.50L354.55 257.50Z" fill="#111"/>
<path d="M359.00 253.76L360.95 257.50L357.05 257.50Z" fill="#111"/>
<rect x="369.83" y="249.23" width="3.15" height="3.15" fill="#111"/>
<rect x="367.03" y="253.73" width="3.15" height="3.15" fill="#111"/>
<rect x="369.03" y="253.73" width="3.15" height="3.15" fill="#111"/>
<rect x="371.43" y="253.73" width="3.15" height="3.15" fill="#111"/>
<rect x="372.63" y="253.73" width="3.15" height="3.15" fill="#111"/>
<circle cx="383.90" cy="246.80" r="1.7" fill="#111"/>
<circle cx="385.10" cy="246.60" r="1.7" fill="#111"/>
<circle cx="382.30" cy="249.20" r="1.7" fill="#111"/>
<circle cx="385.50" cy="252.50" r="1.7" fill="#111"/>
<circle cx="381.90" cy="254.10" r="1.7" fill="#111"/>
<circle cx="384.30" cy="254.90" r="1.7" fill="#111"/>
<circle cx="386.80" cy="254.90" r="1.7" fill="#111"/>
<circle cx="381.90" cy="255.70" r="1.7" fill="#111"/>
<path d="M403.90 247.06L405.85 250.80L401.94 250.80Z" fill="#111"/>
<path d="M405.90 247.06L407.85 250.80L403.94 250.80Z" fill="#111"/>
<path d="M403.10 252.76L405.06 256.50L401.15 256.50Z" fill="#111"/>
<path d="M407.50 252.36L409.45 256.10L405.55 256.10Z" fill="#111"/>
<path d="M401.80 255.16L403.75 258.90L399.85 258.90Z" fill="#111"/>
<rect x="415.23" y="227.13" width="3.15" height="3.15" fill="#111"/>
<rect x="412.83" y="246.53" width="3.15" height="3.15" fill="#111"/>
<rect x="417.63" y="246.53" width="3.15" height="3.15" fill="#111"/>
<rect x="412.83" y="251.03" width="3.15" height="3.15" fill="#111"/>
<rect x="417.63" y="251.03" width="3.15" height="3.15" fill="#111"/>
<circle cx="428.90" cy="221.10" r="1.7" fill="#111"/>
<circle cx="430.90" cy="223.90" r="1.7" fill="#111"/>
<circle cx="428.90" cy="227.10" r="1.7" fill="#111"/>
<circle cx="429.30" cy="236.40" r="1.7" fill="#111"/>
<circle cx="429.30" cy="240.80" r="1.7" fill="#111"/>
<circle cx="426.90" cy="246.10" r="1.7" fill="#111"/>
<circle cx="431.70" cy="246.10" r="1.7" fill="#111"/>
<circle cx="429.30" cy="247.30" r="1.7" fill="#111"/>
<circle cx="426.90" cy="249.70" r="1.7" fill="#111"/>
<path d="M450.20 196.36L452.15 200.10L448.25 200.10Z" fill="#111"/>
<path d="M450.20 204.96L452.15 208.70L448.25 208.70Z" fill="#111"/>
<path d="M450.20 210.06L452.15 213.80L448.25 213.80Z" fill="#111"/>
<path d="M448.00 214.26L449.95 218.00L446.05 218.00Z" fill="#111"/>
<path d="M452.40 214.26L454.35 218.00L450.44 218.00Z" fill="#111"/>
<path d="M450.20 218.96L452.15 222.70L448.25 222.70Z" fill="#111"/>
<rect x="460.73" y="177.03" width="3.15" height="3.15" fill="#111"/>
<rect x="460.73" y="181.73" width="3.15" height="3.15" fill="#111"/>
<rect x="460.73" y="191.73" width="3.15" height="3.15" fill="#111"/>
<rect x="460.73" y="199.03" width="3.15" height="3.15" fill="#111"/>
<circle cx="472.60" cy="180.60" r="1.7" fill="#111"/>
<circle cx="475.20" cy="182.60" r="1.7" fill="#111"/>
<circle cx="474.60" cy="186.00" r="1.7" fill="#111"/>
<circle cx="474.60" cy="194.60" r="1.7" fill="#111"/>
<circle cx="473.20" cy="203.20" r="1.7" fill="#111"/>
<circle cx="477.20" cy="203.20" r="1.7" fill="#111"/>
<circle cx="472.30" cy="206.60" r="1.7" fill="#111"/>
<circle cx="476.80" cy="207.90" r="1.7" fill="#111"/>
<circle cx="474.60" cy="213.20" r="1.7" fill="#111"/>
<circle cx="474.60" cy="217.90" r="1.7" fill="#111"/>
<line x1="313.80" y1="161.20" x2="338.90" y2="161.20" stroke="#9a9a9a" stroke-width="1.3"/>
<text x="326.35" y="162.00" font-size="7.8" text-anchor="middle" font-weight="normal" fill="#222" stroke="#222" stroke-width="0.2">****</text>
<line x1="313.80" y1="169.20" x2="326.70" y2="169.20" stroke="#9a9a9a" stroke-width="1.3"/>
<text x="320.25" y="170.00" font-size="7.8" text-anchor="middle" font-weight="normal" fill="#222" stroke="#222" stroke-width="0.2">****</text>
<line x1="404.80" y1="161.70" x2="430.30" y2="161.70" stroke="#9a9a9a" stroke-width="1.3"/>
<text x="417.55" y="162.00" font-size="7.8" text-anchor="middle" font-weight="normal" fill="#222" stroke="#222" stroke-width="0.2">**</text>
<text transform="translate(278.40,211.60) rotate(-90)" font-size="9.2" text-anchor="middle" font-weight="normal" fill="#262626" textLength="52.50" lengthAdjust="spacingAndGlyphs" stroke="#262626" stroke-width="0.25">% of CD8 T cells</text>
<text x="326.05" y="271.40" font-size="8.4" text-anchor="middle" font-weight="normal" fill="#262626">Naive</text>
<text x="371.55" y="271.40" font-size="8.4" text-anchor="middle" font-weight="normal" fill="#262626">CM</text>
<text x="417.05" y="271.40" font-size="8.4" text-anchor="middle" font-weight="normal" fill="#262626">EM</text>
<text x="462.55" y="271.40" font-size="8.4" text-anchor="middle" font-weight="normal" fill="#262626">EMRA</text>
<text x="10.00" y="293.60" font-size="12.8" text-anchor="start" font-weight="bold" fill="#1e1e1e">E</text>
<line x1="57.00" y1="306.25" x2="57.00" y2="323.60" stroke="#222222" stroke-width="1.2"/>
<line x1="54.30" y1="308.50" x2="57.00" y2="308.50" stroke="#222222" stroke-width="1.0"/>
<text x="50.10" y="311.70" font-size="8.4" text-anchor="end" font-weight="normal" fill="#262626">100</text>
<line x1="54.30" y1="316.00" x2="57.00" y2="316.00" stroke="#222222" stroke-width="1.0"/>
<text x="50.10" y="319.20" font-size="8.4" text-anchor="end" font-weight="normal" fill="#262626">70</text>
<line x1="54.30" y1="323.60" x2="59.70" y2="323.60" stroke="#222222" stroke-width="1.0"/>
<text x="50.10" y="326.80" font-size="8.4" text-anchor="end" font-weight="normal" fill="#262626">40</text>
<line x1="57.00" y1="338.00" x2="57.00" y2="397.70" stroke="#222222" stroke-width="1.2"/>
<line x1="54.30" y1="338.00" x2="59.70" y2="338.00" stroke="#222222" stroke-width="1.0"/>
<text x="50.10" y="341.20" font-size="8.4" text-anchor="end" font-weight="normal" fill="#262626">35</text>
<line x1="54.30" y1="349.90" x2="57.00" y2="349.90" stroke="#222222" stroke-width="1.0"/>
<text x="50.10" y="353.10" font-size="8.4" text-anchor="end" font-weight="normal" fill="#262626">28</text>
<line x1="54.30" y1="361.85" x2="57.00" y2="361.85" stroke="#222222" stroke-width="1.0"/>
<text x="50.10" y="365.05" font-size="8.4" text-anchor="end" font-weight="normal" fill="#262626">21</text>
<line x1="54.30" y1="373.80" x2="57.00" y2="373.80" stroke="#222222" stroke-width="1.0"/>
<text x="50.10" y="377.00" font-size="8.4" text-anchor="end" font-weight="normal" fill="#262626">14</text>
<line x1="54.30" y1="385.75" x2="57.00" y2="385.75" stroke="#222222" stroke-width="1.0"/>
<text x="50.10" y="388.95" font-size="8.4" text-anchor="end" font-weight="normal" fill="#262626">7</text>
<line x1="54.30" y1="397.70" x2="57.00" y2="397.70" stroke="#222222" stroke-width="1.0"/>
<text x="50.10" y="400.90" font-size="8.4" text-anchor="end" font-weight="normal" fill="#262626">0</text>
<line x1="56.40" y1="397.70" x2="409.20" y2="397.70" stroke="#222222" stroke-width="1.2"/>
<line x1="77.10" y1="397.70" x2="77.10" y2="400.70" stroke="#222222" stroke-width="1.0"/>
<line x1="122.10" y1="397.70" x2="122.10" y2="400.70" stroke="#222222" stroke-width="1.0"/>
<line x1="167.10" y1="397.70" x2="167.10" y2="400.70" stroke="#222222" stroke-width="1.0"/>
<line x1="212.10" y1="397.70" x2="212.10" y2="400.70" stroke="#222222" stroke-width="1.0"/>
<line x1="257.10" y1="397.70" x2="257.10" y2="400.70" stroke="#222222" stroke-width="1.0"/>
<line x1="302.10" y1="397.70" x2="302.10" y2="400.70" stroke="#222222" stroke-width="1.0"/>
<line x1="347.10" y1="397.70" x2="347.10" y2="400.70" stroke="#222222" stroke-width="1.0"/>
<line x1="392.10" y1="397.70" x2="392.10" y2="400.70" stroke="#222222" stroke-width="1.0"/>
<rect x="61.15" y="379.60" width="7.60" height="18.10" fill="#F8B600"/>
<rect x="73.30" y="394.60" width="7.60" height="3.10" fill="#CB0A2E"/>
<rect x="85.80" y="389.70" width="7.60" height="8.00" fill="#36A6E0"/>
<rect x="106.15" y="363.30" width="7.60" height="34.40" fill="#F8B600"/>
<rect x="118.30" y="338.00" width="7.60" height="59.70" fill="#CB0A2E"/>
<rect x="118.30" y="309.60" width="7.60" height="14.00" fill="#CB0A2E"/>
<rect x="130.80" y="338.00" width="7.60" height="59.70" fill="#36A6E0"/>
<rect x="130.80" y="311.00" width="7.60" height="12.60" fill="#36A6E0"/>
<rect x="151.15" y="396.50" width="7.60" height="1.20" fill="#F8B600"/>
<rect x="163.30" y="397.00" width="7.60" height="0.70" fill="#CB0A2E"/>
<rect x="175.80" y="396.50" width="7.60" height="1.20" fill="#36A6E0"/>
<rect x="196.15" y="396.00" width="7.60" height="1.70" fill="#F8B600"/>
<rect x="208.30" y="397.00" width="7.60" height="0.70" fill="#CB0A2E"/>
<rect x="220.80" y="396.50" width="7.60" height="1.20" fill="#36A6E0"/>
<rect x="241.15" y="397.00" width="7.60" height="0.70" fill="#F8B600"/>
<rect x="253.30" y="397.00" width="7.60" height="0.70" fill="#CB0A2E"/>
<rect x="265.80" y="397.00" width="7.60" height="0.70" fill="#36A6E0"/>
<rect x="286.15" y="392.50" width="7.60" height="5.20" fill="#F8B600"/>
<rect x="298.30" y="392.00" width="7.60" height="5.70" fill="#CB0A2E"/>
<rect x="310.80" y="396.50" width="7.60" height="1.20" fill="#36A6E0"/>
<rect x="331.15" y="393.00" width="7.60" height="4.70" fill="#F8B600"/>
<rect x="343.30" y="395.50" width="7.60" height="2.20" fill="#CB0A2E"/>
<rect x="355.80" y="395.00" width="7.60" height="2.70" fill="#36A6E0"/>
<rect x="376.15" y="392.00" width="7.60" height="5.70" fill="#F8B600"/>
<rect x="388.30" y="382.10" width="7.60" height="15.60" fill="#CB0A2E"/>
<rect x="400.80" y="386.10" width="7.60" height="11.60" fill="#36A6E0"/>
<line x1="64.95" y1="367.90" x2="64.95" y2="379.60" stroke="#3a3a3a" stroke-width="0.9"/>
<line x1="62.85" y1="367.90" x2="67.05" y2="367.90" stroke="#222" stroke-width="1.0"/>
<line x1="77.10" y1="391.00" x2="77.10" y2="394.60" stroke="#3a3a3a" stroke-width="0.9"/>
<line x1="75.00" y1="391.00" x2="79.20" y2="391.00" stroke="#222" stroke-width="1.0"/>
<line x1="89.60" y1="386.00" x2="89.60" y2="389.70" stroke="#3a3a3a" stroke-width="0.9"/>
<line x1="87.50" y1="386.00" x2="91.70" y2="386.00" stroke="#222" stroke-width="1.0"/>
<line x1="109.95" y1="339.80" x2="109.95" y2="363.30" stroke="#3a3a3a" stroke-width="0.9"/>
<line x1="107.85" y1="339.80" x2="112.05" y2="339.80" stroke="#222" stroke-width="1.0"/>
<line x1="179.60" y1="393.20" x2="179.60" y2="396.50" stroke="#3a3a3a" stroke-width="0.9"/>
<line x1="177.50" y1="393.20" x2="181.70" y2="393.20" stroke="#222" stroke-width="1.0"/>
<line x1="224.60" y1="393.50" x2="224.60" y2="396.50" stroke="#3a3a3a" stroke-width="0.9"/>
<line x1="222.50" y1="393.50" x2="226.70" y2="393.50" stroke="#222" stroke-width="1.0"/>
<line x1="289.95" y1="389.50" x2="289.95" y2="392.50" stroke="#3a3a3a" stroke-width="0.9"/>
<line x1="287.85" y1="389.50" x2="292.05" y2="389.50" stroke="#222" stroke-width="1.0"/>
<line x1="302.10" y1="388.00" x2="302.10" y2="392.00" stroke="#3a3a3a" stroke-width="0.9"/>
<line x1="300.00" y1="388.00" x2="304.20" y2="388.00" stroke="#222" stroke-width="1.0"/>
<line x1="314.60" y1="391.00" x2="314.60" y2="396.50" stroke="#3a3a3a" stroke-width="0.9"/>
<line x1="312.50" y1="391.00" x2="316.70" y2="391.00" stroke="#222" stroke-width="1.0"/>
<line x1="359.60" y1="387.00" x2="359.60" y2="395.00" stroke="#3a3a3a" stroke-width="0.9"/>
<line x1="357.50" y1="387.00" x2="361.70" y2="387.00" stroke="#222" stroke-width="1.0"/>
<line x1="392.10" y1="372.20" x2="392.10" y2="382.10" stroke="#3a3a3a" stroke-width="0.9"/>
<line x1="390.00" y1="372.20" x2="394.20" y2="372.20" stroke="#222" stroke-width="1.0"/>
<line x1="404.60" y1="377.00" x2="404.60" y2="386.10" stroke="#3a3a3a" stroke-width="0.9"/>
<line x1="402.50" y1="377.00" x2="406.70" y2="377.00" stroke="#222" stroke-width="1.0"/>
<path d="M65.10 362.46L67.05 366.20L63.14 366.20Z" fill="#111"/>
<path d="M62.40 376.16L64.36 379.90L60.45 379.90Z" fill="#111"/>
<path d="M67.70 374.16L69.66 377.90L65.75 377.90Z" fill="#111"/>
<path d="M65.10 383.06L67.05 386.80L63.14 386.80Z" fill="#111"/>
<path d="M65.10 394.36L67.05 398.10L63.14 398.10Z" fill="#111"/>
<rect x="75.83" y="387.73" width="3.15" height="3.15" fill="#111"/>
<rect x="73.03" y="394.23" width="3.15" height="3.15" fill="#111"/>
<rect x="75.83" y="394.23" width="3.15" height="3.15" fill="#111"/>
<rect x="78.23" y="394.23" width="3.15" height="3.15" fill="#111"/>
<circle cx="90.30" cy="386.10" r="1.7" fill="#111"/>
<circle cx="89.10" cy="388.10" r="1.7" fill="#111"/>
<circle cx="87.10" cy="390.50" r="1.7" fill="#111"/>
<circle cx="92.30" cy="390.50" r="1.7" fill="#111"/>
<circle cx="88.30" cy="393.00" r="1.7" fill="#111"/>
<circle cx="91.10" cy="393.00" r="1.7" fill="#111"/>
<circle cx="89.10" cy="395.40" r="1.7" fill="#111"/>
<circle cx="89.10" cy="397.40" r="1.7" fill="#111"/>
<path d="M108.10 339.26L110.05 343.00L106.14 343.00Z" fill="#111"/>
<path d="M112.50 339.76L114.45 343.50L110.55 343.50Z" fill="#111"/>
<path d="M110.30 338.26L112.25 342.00L108.34 342.00Z" fill="#111"/>
<path d="M107.40 361.06L109.36 364.80L105.45 364.80Z" fill="#111"/>
<path d="M113.00 361.06L114.95 364.80L111.05 364.80Z" fill="#111"/>
<path d="M109.60 392.76L111.55 396.50L107.64 396.50Z" fill="#111"/>
<rect x="117.53" y="308.43" width="3.15" height="3.15" fill="#111"/>
<rect x="120.23" y="308.73" width="3.15" height="3.15" fill="#111"/>
<rect x="122.73" y="308.43" width="3.15" height="3.15" fill="#111"/>
<rect x="119.03" y="310.23" width="3.15" height="3.15" fill="#111"/>
<rect x="122.03" y="310.23" width="3.15" height="3.15" fill="#111"/>
<circle cx="133.10" cy="310.60" r="1.7" fill="#111"/>
<circle cx="135.30" cy="311.00" r="1.7" fill="#111"/>
<circle cx="131.70" cy="312.50" r="1.7" fill="#111"/>
<circle cx="136.80" cy="313.30" r="1.7" fill="#111"/>
<circle cx="134.60" cy="316.20" r="1.7" fill="#111"/>
<circle cx="134.60" cy="322.10" r="1.7" fill="#111"/>
<path d="M152.50 392.76L154.46 396.50L150.54 396.50Z" fill="#111"/>
<path d="M155.00 391.76L156.96 395.50L153.04 395.50Z" fill="#111"/>
<path d="M157.00 393.76L158.96 397.50L155.04 397.50Z" fill="#111"/>
<path d="M154.00 394.76L155.96 398.50L152.04 398.50Z" fill="#111"/>
<rect x="162.43" y="395.43" width="3.15" height="3.15" fill="#111"/>
<rect x="164.43" y="394.93" width="3.15" height="3.15" fill="#111"/>
<rect x="166.43" y="395.43" width="3.15" height="3.15" fill="#111"/>
<circle cx="179.20" cy="387.60" r="1.7" fill="#111"/>
<circle cx="177.50" cy="395.50" r="1.7" fill="#111"/>
<circle cx="180.50" cy="395.50" r="1.7" fill="#111"/>
<circle cx="178.00" cy="397.50" r="1.7" fill="#111"/>
<circle cx="181.00" cy="397.50" r="1.7" fill="#111"/>
<path d="M199.50 387.36L201.46 391.10L197.54 391.10Z" fill="#111"/>
<path d="M198.50 392.76L200.46 396.50L196.54 396.50Z" fill="#111"/>
<path d="M200.80 392.76L202.76 396.50L198.84 396.50Z" fill="#111"/>
<path d="M199.50 394.26L201.46 398.00L197.54 398.00Z" fill="#111"/>
<rect x="208.43" y="395.43" width="3.15" height="3.15" fill="#111"/>
<rect x="210.93" y="394.93" width="3.15" height="3.15" fill="#111"/>
<rect x="213.43" y="395.43" width="3.15" height="3.15" fill="#111"/>
<circle cx="224.60" cy="388.50" r="1.7" fill="#111"/>
<circle cx="223.00" cy="395.50" r="1.7" fill="#111"/>
<circle cx="226.00" cy="395.50" r="1.7" fill="#111"/>
<circle cx="222.80" cy="397.50" r="1.7" fill="#111"/>
<circle cx="226.50" cy="397.50" r="1.7" fill="#111"/>
<path d="M243.00 394.96L244.96 398.70L241.04 398.70Z" fill="#111"/>
<path d="M245.50 394.96L247.46 398.70L243.54 398.70Z" fill="#111"/>
<path d="M248.00 394.96L249.96 398.70L246.04 398.70Z" fill="#111"/>
<rect x="252.93" y="395.63" width="3.15" height="3.15" fill="#111"/>
<rect x="255.43" y="395.63" width="3.15" height="3.15" fill="#111"/>
<rect x="257.93" y="395.63" width="3.15" height="3.15" fill="#111"/>
<circle cx="266.50" cy="397.20" r="1.7" fill="#111"/>
<circle cx="269.00" cy="397.20" r="1.7" fill="#111"/>
<circle cx="271.50" cy="397.20" r="1.7" fill="#111"/>
<path d="M289.60 387.36L291.56 391.10L287.65 391.10Z" fill="#111"/>
<path d="M288.00 391.96L289.95 395.70L286.05 395.70Z" fill="#111"/>
<path d="M292.00 391.96L293.95 395.70L290.05 395.70Z" fill="#111"/>
<path d="M287.30 394.26L289.25 398.00L285.35 398.00Z" fill="#111"/>
<path d="M291.20 394.26L293.15 398.00L289.25 398.00Z" fill="#111"/>
<rect x="300.33" y="384.93" width="3.15" height="3.15" fill="#111"/>
<rect x="300.33" y="388.83" width="3.15" height="3.15" fill="#111"/>
<rect x="298.03" y="392.63" width="3.15" height="3.15" fill="#111"/>
<rect x="302.63" y="392.63" width="3.15" height="3.15" fill="#111"/>
<rect x="300.33" y="394.93" width="3.15" height="3.15" fill="#111"/>
<circle cx="314.40" cy="389.20" r="1.7" fill="#111"/>
<circle cx="313.30" cy="392.70" r="1.7" fill="#111"/>
<circle cx="315.50" cy="392.70" r="1.7" fill="#111"/>
<circle cx="312.80" cy="395.40" r="1.7" fill="#111"/>
<circle cx="316.00" cy="395.40" r="1.7" fill="#111"/>
<circle cx="314.40" cy="396.50" r="1.7" fill="#111"/>
<path d="M333.00 390.76L334.95 394.50L331.05 394.50Z" fill="#111"/>
<path d="M337.00 390.76L338.95 394.50L335.05 394.50Z" fill="#111"/>
<path d="M335.00 392.76L336.95 396.50L333.05 396.50Z" fill="#111"/>
<path d="M332.00 393.76L333.95 397.50L330.05 397.50Z" fill="#111"/>
<path d="M338.00 393.76L339.95 397.50L336.05 397.50Z" fill="#111"/>
<rect x="342.43" y="393.43" width="3.15" height="3.15" fill="#111"/>
<rect x="344.43" y="392.43" width="3.15" height="3.15" fill="#111"/>
<rect x="346.43" y="393.43" width="3.15" height="3.15" fill="#111"/>
<rect x="344.43" y="394.93" width="3.15" height="3.15" fill="#111"/>
<circle cx="359.30" cy="382.10" r="1.7" fill="#111"/>
<circle cx="359.30" cy="385.40" r="1.7" fill="#111"/>
<circle cx="358.00" cy="388.30" r="1.7" fill="#111"/>
<circle cx="360.20" cy="389.90" r="1.7" fill="#111"/>
<circle cx="358.60" cy="392.70" r="1.7" fill="#111"/>
<circle cx="357.10" cy="395.40" r="1.7" fill="#111"/>
<circle cx="360.20" cy="395.40" r="1.7" fill="#111"/>
<path d="M377.40 388.76L379.35 392.50L375.44 392.50Z" fill="#111"/>
<path d="M380.80 388.76L382.75 392.50L378.85 392.50Z" fill="#111"/>
<path d="M379.20 390.96L381.15 394.70L377.25 394.70Z" fill="#111"/>
<path d="M377.90 393.16L379.85 396.90L375.94 396.90Z" fill="#111"/>
<path d="M381.40 393.16L383.35 396.90L379.44 396.90Z" fill="#111"/>
<rect x="390.23" y="365.03" width="3.15" height="3.15" fill="#111"/>
<rect x="388.03" y="386.13" width="3.15" height="3.15" fill="#111"/>
<rect x="391.33" y="386.13" width="3.15" height="3.15" fill="#111"/>
<rect x="389.63" y="384.53" width="3.15" height="3.15" fill="#111"/>
<rect x="390.23" y="387.63" width="3.15" height="3.15" fill="#111"/>
<circle cx="404.40" cy="374.40" r="1.7" fill="#111"/>
<circle cx="405.10" cy="377.30" r="1.7" fill="#111"/>
<circle cx="403.50" cy="379.90" r="1.7" fill="#111"/>
<circle cx="405.80" cy="382.10" r="1.7" fill="#111"/>
<circle cx="402.90" cy="384.80" r="1.7" fill="#111"/>
<circle cx="405.10" cy="386.50" r="1.7" fill="#111"/>
<circle cx="403.50" cy="388.80" r="1.7" fill="#111"/>
<circle cx="405.80" cy="391.00" r="1.7" fill="#111"/>
<circle cx="404.00" cy="393.20" r="1.7" fill="#111"/>
<line x1="65.40" y1="297.50" x2="89.70" y2="297.50" stroke="#9a9a9a" stroke-width="1.3"/>
<text x="77.55" y="298.00" font-size="7.8" text-anchor="middle" font-weight="normal" fill="#222" stroke="#222" stroke-width="0.2">*</text>
<line x1="65.40" y1="305.60" x2="78.10" y2="305.60" stroke="#9a9a9a" stroke-width="1.3"/>
<text x="71.75" y="306.00" font-size="7.8" text-anchor="middle" font-weight="normal" fill="#222" stroke="#222" stroke-width="0.2">*</text>
<line x1="110.40" y1="297.50" x2="134.60" y2="297.50" stroke="#9a9a9a" stroke-width="1.3"/>
<text x="122.50" y="298.00" font-size="7.8" text-anchor="middle" font-weight="normal" fill="#222" stroke="#222" stroke-width="0.2">****</text>
<line x1="110.40" y1="305.60" x2="122.50" y2="305.60" stroke="#9a9a9a" stroke-width="1.3"/>
<text x="116.45" y="306.00" font-size="7.8" text-anchor="middle" font-weight="normal" fill="#222" stroke="#222" stroke-width="0.2">****</text>
<line x1="380.20" y1="297.50" x2="405.20" y2="297.50" stroke="#9a9a9a" stroke-width="1.3"/>
<text x="392.70" y="298.00" font-size="7.8" text-anchor="middle" font-weight="normal" fill="#222" stroke="#222" stroke-width="0.2">*</text>
<line x1="380.20" y1="305.60" x2="391.70" y2="305.60" stroke="#9a9a9a" stroke-width="1.3"/>
<text x="385.95" y="306.00" font-size="7.8" text-anchor="middle" font-weight="normal" fill="#222" stroke="#222" stroke-width="0.2">*</text>
<text transform="translate(29.40,353.00) rotate(-90)" font-size="9.2" text-anchor="middle" font-weight="normal" fill="#262626" textLength="52.70" lengthAdjust="spacingAndGlyphs" stroke="#262626" stroke-width="0.25">% of CD4 T cells</text>
<text x="77.10" y="412.60" font-size="8.4" text-anchor="middle" font-weight="normal" fill="#262626">Th-1</text>
<text x="122.10" y="412.60" font-size="8.4" text-anchor="middle" font-weight="normal" fill="#262626">Th-2</text>
<text x="167.10" y="412.60" font-size="8.4" text-anchor="middle" font-weight="normal" fill="#262626">Th-9</text>
<text x="212.10" y="412.60" font-size="8.4" text-anchor="middle" font-weight="normal" fill="#262626">Th-17</text>
<text x="257.10" y="412.60" font-size="8.4" text-anchor="middle" font-weight="normal" fill="#262626">Th-22</text>
<text x="302.10" y="412.60" font-size="8.4" text-anchor="middle" font-weight="normal" fill="#262626">Tfh</text>
<text x="347.10" y="412.60" font-size="8.4" text-anchor="middle" font-weight="normal" fill="#262626">Th-GMCSF</text>
<text x="392.10" y="412.60" font-size="8.4" text-anchor="middle" font-weight="normal" fill="#262626">Treg</text>
<text x="10.00" y="433.80" font-size="12.8" text-anchor="start" font-weight="bold" fill="#1e1e1e">F</text>
<line x1="60.00" y1="432.50" x2="60.00" y2="523.80" stroke="#222222" stroke-width="1.2"/>
<line x1="57.30" y1="435.80" x2="60.00" y2="435.80" stroke="#222222" stroke-width="1.0"/>
<text x="53.10" y="439.00" font-size="8.4" text-anchor="end" font-weight="normal" fill="#262626">100</text>
<line x1="57.30" y1="453.40" x2="60.00" y2="453.40" stroke="#222222" stroke-width="1.0"/>
<text x="53.10" y="456.60" font-size="8.4" text-anchor="end" font-weight="normal" fill="#262626">80</text>
<line x1="57.30" y1="471.00" x2="60.00" y2="471.00" stroke="#222222" stroke-width="1.0"/>
<text x="53.10" y="474.20" font-size="8.4" text-anchor="end" font-weight="normal" fill="#262626">60</text>
<line x1="57.30" y1="488.60" x2="60.00" y2="488.60" stroke="#222222" stroke-width="1.0"/>
<text x="53.10" y="491.80" font-size="8.4" text-anchor="end" font-weight="normal" fill="#262626">40</text>
<line x1="57.30" y1="506.20" x2="60.00" y2="506.20" stroke="#222222" stroke-width="1.0"/>
<text x="53.10" y="509.40" font-size="8.4" text-anchor="end" font-weight="normal" fill="#262626">20</text>
<line x1="57.30" y1="523.80" x2="60.00" y2="523.80" stroke="#222222" stroke-width="1.0"/>
<text x="53.10" y="527.00" font-size="8.4" text-anchor="end" font-weight="normal" fill="#262626">0</text>
<line x1="59.40" y1="523.80" x2="512.20" y2="523.80" stroke="#222222" stroke-width="1.2"/>
<line x1="80.60" y1="523.80" x2="80.60" y2="526.80" stroke="#222222" stroke-width="1.0"/>
<line x1="126.30" y1="523.80" x2="126.30" y2="526.80" stroke="#222222" stroke-width="1.0"/>
<line x1="172.00" y1="523.80" x2="172.00" y2="526.80" stroke="#222222" stroke-width="1.0"/>
<line x1="217.70" y1="523.80" x2="217.70" y2="526.80" stroke="#222222" stroke-width="1.0"/>
<line x1="263.40" y1="523.80" x2="263.40" y2="526.80" stroke="#222222" stroke-width="1.0"/>
<line x1="309.10" y1="523.80" x2="309.10" y2="526.80" stroke="#222222" stroke-width="1.0"/>
<line x1="354.80" y1="523.80" x2="354.80" y2="526.80" stroke="#222222" stroke-width="1.0"/>
<line x1="400.50" y1="523.80" x2="400.50" y2="526.80" stroke="#222222" stroke-width="1.0"/>
<line x1="446.20" y1="523.80" x2="446.20" y2="526.80" stroke="#222222" stroke-width="1.0"/>
<line x1="491.90" y1="523.80" x2="491.90" y2="526.80" stroke="#222222" stroke-width="1.0"/>
<rect x="64.15" y="512.40" width="7.70" height="11.40" fill="#F8B600"/>
<rect x="76.75" y="491.90" width="7.70" height="31.90" fill="#CB0A2E"/>
<rect x="89.25" y="497.70" width="7.70" height="26.10" fill="#36A6E0"/>
<rect x="109.85" y="516.20" width="7.70" height="7.60" fill="#F8B600"/>
<rect x="122.45" y="511.00" width="7.70" height="12.80" fill="#CB0A2E"/>
<rect x="134.95" y="510.10" width="7.70" height="13.70" fill="#36A6E0"/>
<rect x="155.55" y="520.00" width="7.70" height="3.80" fill="#F8B600"/>
<rect x="168.15" y="510.20" width="7.70" height="13.60" fill="#CB0A2E"/>
<rect x="180.65" y="514.70" width="7.70" height="9.10" fill="#36A6E0"/>
<rect x="201.25" y="516.60" width="7.70" height="7.20" fill="#F8B600"/>
<rect x="213.85" y="503.30" width="7.70" height="20.50" fill="#CB0A2E"/>
<rect x="226.35" y="506.90" width="7.70" height="16.90" fill="#36A6E0"/>
<rect x="246.95" y="517.90" width="7.70" height="5.90" fill="#F8B600"/>
<rect x="259.55" y="509.80" width="7.70" height="14.00" fill="#CB0A2E"/>
<rect x="272.05" y="511.40" width="7.70" height="12.40" fill="#36A6E0"/>
<rect x="292.65" y="522.00" width="7.70" height="1.80" fill="#F8B600"/>
<rect x="305.25" y="515.40" width="7.70" height="8.40" fill="#CB0A2E"/>
<rect x="317.75" y="515.80" width="7.70" height="8.00" fill="#36A6E0"/>
<rect x="338.35" y="520.00" width="7.70" height="3.80" fill="#F8B600"/>
<rect x="350.95" y="506.10" width="7.70" height="17.70" fill="#CB0A2E"/>
<rect x="363.45" y="506.10" width="7.70" height="17.70" fill="#36A6E0"/>
<rect x="384.05" y="522.50" width="7.70" height="1.30" fill="#F8B600"/>
<rect x="396.65" y="510.90" width="7.70" height="12.90" fill="#CB0A2E"/>
<rect x="409.15" y="512.50" width="7.70" height="11.30" fill="#36A6E0"/>
<rect x="429.75" y="505.80" width="7.70" height="18.00" fill="#F8B600"/>
<rect x="442.35" y="522.00" width="7.70" height="1.80" fill="#CB0A2E"/>
<rect x="454.85" y="521.00" width="7.70" height="2.80" fill="#36A6E0"/>
<rect x="475.45" y="522.50" width="7.70" height="1.30" fill="#F8B600"/>
<rect x="488.05" y="511.90" width="7.70" height="11.90" fill="#CB0A2E"/>
<rect x="500.55" y="514.30" width="7.70" height="9.50" fill="#36A6E0"/>
<line x1="68.00" y1="505.70" x2="68.00" y2="512.40" stroke="#3a3a3a" stroke-width="0.9"/>
<line x1="65.90" y1="505.70" x2="70.10" y2="505.70" stroke="#222" stroke-width="1.0"/>
<line x1="80.60" y1="474.40" x2="80.60" y2="491.90" stroke="#3a3a3a" stroke-width="0.9"/>
<line x1="78.50" y1="474.40" x2="82.70" y2="474.40" stroke="#222" stroke-width="1.0"/>
<line x1="93.10" y1="488.70" x2="93.10" y2="497.70" stroke="#3a3a3a" stroke-width="0.9"/>
<line x1="91.00" y1="488.70" x2="95.20" y2="488.70" stroke="#222" stroke-width="1.0"/>
<line x1="126.30" y1="503.00" x2="126.30" y2="511.00" stroke="#3a3a3a" stroke-width="0.9"/>
<line x1="124.20" y1="503.00" x2="128.40" y2="503.00" stroke="#222" stroke-width="1.0"/>
<line x1="138.80" y1="496.40" x2="138.80" y2="510.10" stroke="#3a3a3a" stroke-width="0.9"/>
<line x1="136.70" y1="496.40" x2="140.90" y2="496.40" stroke="#222" stroke-width="1.0"/>
<line x1="172.00" y1="491.40" x2="172.00" y2="510.20" stroke="#3a3a3a" stroke-width="0.9"/>
<line x1="169.90" y1="491.40" x2="174.10" y2="491.40" stroke="#222" stroke-width="1.0"/>
<line x1="184.50" y1="497.70" x2="184.50" y2="514.70" stroke="#3a3a3a" stroke-width="0.9"/>
<line x1="182.40" y1="497.70" x2="186.60" y2="497.70" stroke="#222" stroke-width="1.0"/>
<line x1="205.10" y1="512.20" x2="205.10" y2="516.60" stroke="#3a3a3a" stroke-width="0.9"/>
<line x1="203.00" y1="512.20" x2="207.20" y2="512.20" stroke="#222" stroke-width="1.0"/>
<line x1="217.70" y1="490.00" x2="217.70" y2="503.30" stroke="#3a3a3a" stroke-width="0.9"/>
<line x1="215.60" y1="490.00" x2="219.80" y2="490.00" stroke="#222" stroke-width="1.0"/>
<line x1="230.20" y1="498.40" x2="230.20" y2="506.90" stroke="#3a3a3a" stroke-width="0.9"/>
<line x1="228.10" y1="498.40" x2="232.30" y2="498.40" stroke="#222" stroke-width="1.0"/>
<line x1="263.40" y1="505.50" x2="263.40" y2="509.80" stroke="#3a3a3a" stroke-width="0.9"/>
<line x1="261.30" y1="505.50" x2="265.50" y2="505.50" stroke="#222" stroke-width="1.0"/>
<line x1="275.90" y1="502.90" x2="275.90" y2="511.40" stroke="#3a3a3a" stroke-width="0.9"/>
<line x1="273.80" y1="502.90" x2="278.00" y2="502.90" stroke="#222" stroke-width="1.0"/>
<line x1="309.10" y1="512.50" x2="309.10" y2="515.40" stroke="#3a3a3a" stroke-width="0.9"/>
<line x1="307.00" y1="512.50" x2="311.20" y2="512.50" stroke="#222" stroke-width="1.0"/>
<line x1="321.60" y1="510.60" x2="321.60" y2="515.80" stroke="#3a3a3a" stroke-width="0.9"/>
<line x1="319.50" y1="510.60" x2="323.70" y2="510.60" stroke="#222" stroke-width="1.0"/>
<line x1="354.80" y1="482.90" x2="354.80" y2="506.10" stroke="#3a3a3a" stroke-width="0.9"/>
<line x1="352.70" y1="482.90" x2="356.90" y2="482.90" stroke="#222" stroke-width="1.0"/>
<line x1="367.30" y1="478.90" x2="367.30" y2="506.10" stroke="#3a3a3a" stroke-width="0.9"/>
<line x1="365.20" y1="478.90" x2="369.40" y2="478.90" stroke="#222" stroke-width="1.0"/>
<line x1="400.50" y1="492.10" x2="400.50" y2="510.90" stroke="#3a3a3a" stroke-width="0.9"/>
<line x1="398.40" y1="492.10" x2="402.60" y2="492.10" stroke="#222" stroke-width="1.0"/>
<line x1="413.00" y1="489.20" x2="413.00" y2="512.50" stroke="#3a3a3a" stroke-width="0.9"/>
<line x1="410.90" y1="489.20" x2="415.10" y2="489.20" stroke="#222" stroke-width="1.0"/>
<line x1="433.60" y1="498.60" x2="433.60" y2="505.80" stroke="#3a3a3a" stroke-width="0.9"/>
<line x1="431.50" y1="498.60" x2="435.70" y2="498.60" stroke="#222" stroke-width="1.0"/>
<line x1="491.90" y1="508.00" x2="491.90" y2="511.90" stroke="#3a3a3a" stroke-width="0.9"/>
<line x1="489.80" y1="508.00" x2="494.00" y2="508.00" stroke="#222" stroke-width="1.0"/>
<line x1="504.40" y1="506.70" x2="504.40" y2="514.30" stroke="#3a3a3a" stroke-width="0.9"/>
<line x1="502.30" y1="506.70" x2="506.50" y2="506.70" stroke="#222" stroke-width="1.0"/>
<path d="M65.60 503.46L67.55 507.20L63.64 507.20Z" fill="#111"/>
<path d="M67.60 503.46L69.55 507.20L65.64 507.20Z" fill="#111"/>
<path d="M70.70 504.16L72.66 507.90L68.75 507.90Z" fill="#111"/>
<path d="M65.60 508.86L67.55 512.60L63.64 512.60Z" fill="#111"/>
<path d="M70.70 511.56L72.66 515.30L68.75 515.30Z" fill="#111"/>
<path d="M68.10 515.56L70.05 519.30L66.14 519.30Z" fill="#111"/>
<rect x="76.33" y="480.03" width="3.15" height="3.15" fill="#111"/>
<rect x="81.73" y="479.13" width="3.15" height="3.15" fill="#111"/>
<rect x="79.03" y="484.03" width="3.15" height="3.15" fill="#111"/>
<rect x="79.03" y="514.03" width="3.15" height="3.15" fill="#111"/>
<circle cx="93.10" cy="475.70" r="1.7" fill="#111"/>
<circle cx="93.10" cy="483.80" r="1.7" fill="#111"/>
<circle cx="92.20" cy="488.50" r="1.7" fill="#111"/>
<circle cx="94.00" cy="491.00" r="1.7" fill="#111"/>
<circle cx="91.80" cy="503.50" r="1.7" fill="#111"/>
<circle cx="95.40" cy="502.20" r="1.7" fill="#111"/>
<circle cx="93.10" cy="504.40" r="1.7" fill="#111"/>
<circle cx="93.10" cy="513.80" r="1.7" fill="#111"/>
<path d="M113.70 512.76L115.66 516.50L111.75 516.50Z" fill="#111"/>
<path d="M111.70 514.76L113.66 518.50L109.75 518.50Z" fill="#111"/>
<path d="M115.30 515.16L117.25 518.90L113.34 518.90Z" fill="#111"/>
<path d="M112.90 517.96L114.86 521.70L110.95 521.70Z" fill="#111"/>
<path d="M114.50 518.76L116.45 522.50L112.55 522.50Z" fill="#111"/>
<rect x="124.93" y="498.43" width="3.15" height="3.15" fill="#111"/>
<rect x="124.93" y="502.53" width="3.15" height="3.15" fill="#111"/>
<rect x="124.93" y="513.03" width="3.15" height="3.15" fill="#111"/>
<rect x="124.93" y="519.43" width="3.15" height="3.15" fill="#111"/>
<circle cx="138.70" cy="483.90" r="1.7" fill="#111"/>
<circle cx="138.70" cy="496.40" r="1.7" fill="#111"/>
<circle cx="137.90" cy="515.00" r="1.7" fill="#111"/>
<circle cx="136.70" cy="516.20" r="1.7" fill="#111"/>
<circle cx="139.90" cy="516.20" r="1.7" fill="#111"/>
<circle cx="138.70" cy="517.80" r="1.7" fill="#111"/>
<circle cx="138.70" cy="519.80" r="1.7" fill="#111"/>
<circle cx="137.50" cy="521.00" r="1.7" fill="#111"/>
<path d="M158.00 517.76L159.96 521.50L156.04 521.50Z" fill="#111"/>
<path d="M161.00 517.26L162.96 521.00L159.04 521.00Z" fill="#111"/>
<path d="M159.50 519.26L161.46 523.00L157.54 523.00Z" fill="#111"/>
<path d="M162.00 519.76L163.96 523.50L160.04 523.50Z" fill="#111"/>
<rect x="170.33" y="481.33" width="3.15" height="3.15" fill="#111"/>
<rect x="170.33" y="511.73" width="3.15" height="3.15" fill="#111"/>
<rect x="167.63" y="519.83" width="3.15" height="3.15" fill="#111"/>
<rect x="172.63" y="518.03" width="3.15" height="3.15" fill="#111"/>
<rect x="169.93" y="520.73" width="3.15" height="3.15" fill="#111"/>
<circle cx="184.50" cy="471.70" r="1.7" fill="#111"/>
<circle cx="184.50" cy="502.60" r="1.7" fill="#111"/>
<circle cx="184.50" cy="507.50" r="1.7" fill="#111"/>
<circle cx="181.80" cy="522.30" r="1.7" fill="#111"/>
<circle cx="183.60" cy="522.70" r="1.7" fill="#111"/>
<circle cx="185.80" cy="522.70" r="1.7" fill="#111"/>
<circle cx="187.20" cy="522.30" r="1.7" fill="#111"/>
<path d="M202.90 509.56L204.86 513.30L200.94 513.30Z" fill="#111"/>
<path d="M205.30 510.36L207.26 514.10L203.34 514.10Z" fill="#111"/>
<path d="M207.30 511.56L209.26 515.30L205.34 515.30Z" fill="#111"/>
<path d="M203.70 513.56L205.66 517.30L201.74 517.30Z" fill="#111"/>
<path d="M202.90 518.36L204.86 522.10L200.94 522.10Z" fill="#111"/>
<path d="M207.30 517.96L209.26 521.70L205.34 521.70Z" fill="#111"/>
<rect x="215.83" y="484.33" width="3.15" height="3.15" fill="#111"/>
<rect x="215.83" y="497.23" width="3.15" height="3.15" fill="#111"/>
<rect x="213.43" y="512.63" width="3.15" height="3.15" fill="#111"/>
<rect x="218.23" y="509.73" width="3.15" height="3.15" fill="#111"/>
<rect x="215.83" y="512.63" width="3.15" height="3.15" fill="#111"/>
<circle cx="232.80" cy="493.60" r="1.7" fill="#111"/>
<circle cx="229.90" cy="494.80" r="1.7" fill="#111"/>
<circle cx="231.10" cy="497.20" r="1.7" fill="#111"/>
<circle cx="227.50" cy="500.80" r="1.7" fill="#111"/>
<circle cx="229.50" cy="503.70" r="1.7" fill="#111"/>
<circle cx="232.80" cy="503.30" r="1.7" fill="#111"/>
<circle cx="227.50" cy="506.50" r="1.7" fill="#111"/>
<circle cx="230.70" cy="506.10" r="1.7" fill="#111"/>
<circle cx="232.80" cy="506.90" r="1.7" fill="#111"/>
<circle cx="230.70" cy="509.70" r="1.7" fill="#111"/>
<circle cx="229.10" cy="513.40" r="1.7" fill="#111"/>
<path d="M248.50 515.66L250.46 519.40L246.54 519.40Z" fill="#111"/>
<path d="M250.90 515.26L252.86 519.00L248.94 519.00Z" fill="#111"/>
<path d="M253.30 515.66L255.26 519.40L251.34 519.40Z" fill="#111"/>
<path d="M249.70 518.46L251.66 522.20L247.74 522.20Z" fill="#111"/>
<path d="M252.50 518.46L254.46 522.20L250.54 522.20Z" fill="#111"/>
<rect x="259.03" y="504.23" width="3.15" height="3.15" fill="#111"/>
<rect x="261.83" y="503.33" width="3.15" height="3.15" fill="#111"/>
<rect x="264.63" y="504.63" width="3.15" height="3.15" fill="#111"/>
<rect x="261.83" y="505.83" width="3.15" height="3.15" fill="#111"/>
<rect x="261.83" y="515.53" width="3.15" height="3.15" fill="#111"/>
<circle cx="275.90" cy="495.70" r="1.7" fill="#111"/>
<circle cx="273.90" cy="504.50" r="1.7" fill="#111"/>
<circle cx="278.00" cy="504.50" r="1.7" fill="#111"/>
<circle cx="275.90" cy="502.90" r="1.7" fill="#111"/>
<circle cx="275.90" cy="507.00" r="1.7" fill="#111"/>
<circle cx="273.90" cy="517.90" r="1.7" fill="#111"/>
<circle cx="275.90" cy="516.70" r="1.7" fill="#111"/>
<circle cx="278.00" cy="517.90" r="1.7" fill="#111"/>
<circle cx="275.10" cy="519.10" r="1.7" fill="#111"/>
<path d="M294.50 519.26L296.45 523.00L292.55 523.00Z" fill="#111"/>
<path d="M297.00 518.26L298.95 522.00L295.05 522.00Z" fill="#111"/>
<path d="M299.50 519.26L301.45 523.00L297.55 523.00Z" fill="#111"/>
<rect x="304.63" y="510.63" width="3.15" height="3.15" fill="#111"/>
<rect x="307.43" y="511.83" width="3.15" height="3.15" fill="#111"/>
<rect x="310.23" y="512.23" width="3.15" height="3.15" fill="#111"/>
<rect x="307.43" y="516.73" width="3.15" height="3.15" fill="#111"/>
<rect x="305.83" y="514.23" width="3.15" height="3.15" fill="#111"/>
<circle cx="321.50" cy="502.90" r="1.7" fill="#111"/>
<circle cx="320.30" cy="511.80" r="1.7" fill="#111"/>
<circle cx="323.10" cy="513.00" r="1.7" fill="#111"/>
<circle cx="324.80" cy="514.20" r="1.7" fill="#111"/>
<circle cx="319.10" cy="519.10" r="1.7" fill="#111"/>
<circle cx="321.50" cy="518.30" r="1.7" fill="#111"/>
<circle cx="323.90" cy="520.30" r="1.7" fill="#111"/>
<circle cx="320.70" cy="520.70" r="1.7" fill="#111"/>
<path d="M342.20 511.86L344.15 515.60L340.25 515.60Z" fill="#111"/>
<path d="M342.20 515.16L344.15 518.90L340.25 518.90Z" fill="#111"/>
<path d="M340.00 519.86L341.95 523.60L338.05 523.60Z" fill="#111"/>
<path d="M344.60 519.86L346.56 523.60L342.65 523.60Z" fill="#111"/>
<path d="M342.20 521.16L344.15 524.90L340.25 524.90Z" fill="#111"/>
<rect x="353.03" y="472.63" width="3.15" height="3.15" fill="#111"/>
<rect x="353.03" y="500.63" width="3.15" height="3.15" fill="#111"/>
<rect x="351.03" y="520.53" width="3.15" height="3.15" fill="#111"/>
<rect x="355.03" y="520.53" width="3.15" height="3.15" fill="#111"/>
<circle cx="367.20" cy="440.30" r="1.7" fill="#111"/>
<circle cx="366.60" cy="500.20" r="1.7" fill="#111"/>
<circle cx="367.20" cy="504.10" r="1.7" fill="#111"/>
<circle cx="367.20" cy="516.80" r="1.7" fill="#111"/>
<circle cx="365.20" cy="522.10" r="1.7" fill="#111"/>
<circle cx="369.20" cy="522.10" r="1.7" fill="#111"/>
<path d="M386.00 520.26L387.95 524.00L384.05 524.00Z" fill="#111"/>
<path d="M388.50 519.76L390.45 523.50L386.55 523.50Z" fill="#111"/>
<path d="M391.00 520.26L392.95 524.00L389.05 524.00Z" fill="#111"/>
<rect x="398.93" y="482.93" width="3.15" height="3.15" fill="#111"/>
<rect x="398.93" y="508.73" width="3.15" height="3.15" fill="#111"/>
<rect x="397.03" y="520.63" width="3.15" height="3.15" fill="#111"/>
<rect x="401.03" y="520.63" width="3.15" height="3.15" fill="#111"/>
<circle cx="412.90" cy="448.20" r="1.7" fill="#111"/>
<circle cx="412.90" cy="507.80" r="1.7" fill="#111"/>
<circle cx="412.90" cy="511.50" r="1.7" fill="#111"/>
<circle cx="412.90" cy="517.80" r="1.7" fill="#111"/>
<circle cx="410.70" cy="522.60" r="1.7" fill="#111"/>
<circle cx="415.10" cy="522.60" r="1.7" fill="#111"/>
<path d="M433.70 494.36L435.65 498.10L431.75 498.10Z" fill="#111"/>
<path d="M433.70 499.96L435.65 503.70L431.75 503.70Z" fill="#111"/>
<path d="M433.70 505.26L435.65 509.00L431.75 509.00Z" fill="#111"/>
<path d="M431.30 511.66L433.25 515.40L429.35 515.40Z" fill="#111"/>
<path d="M436.10 510.46L438.06 514.20L434.15 514.20Z" fill="#111"/>
<rect x="443.43" y="520.93" width="3.15" height="3.15" fill="#111"/>
<rect x="445.43" y="519.43" width="3.15" height="3.15" fill="#111"/>
<rect x="447.43" y="520.93" width="3.15" height="3.15" fill="#111"/>
<rect x="444.43" y="521.93" width="3.15" height="3.15" fill="#111"/>
<circle cx="459.00" cy="516.50" r="1.7" fill="#111"/>
<circle cx="457.50" cy="519.00" r="1.7" fill="#111"/>
<circle cx="460.50" cy="519.00" r="1.7" fill="#111"/>
<circle cx="456.00" cy="521.50" r="1.7" fill="#111"/>
<circle cx="459.00" cy="521.50" r="1.7" fill="#111"/>
<circle cx="462.00" cy="522.00" r="1.7" fill="#111"/>
<circle cx="458.00" cy="523.50" r="1.7" fill="#111"/>
<path d="M476.50 520.26L478.45 524.00L474.55 524.00Z" fill="#111"/>
<path d="M479.00 519.76L480.95 523.50L477.05 523.50Z" fill="#111"/>
<path d="M481.50 520.26L483.45 524.00L479.55 524.00Z" fill="#111"/>
<rect x="487.43" y="506.33" width="3.15" height="3.15" fill="#111"/>
<rect x="490.23" y="505.53" width="3.15" height="3.15" fill="#111"/>
<rect x="493.43" y="506.33" width="3.15" height="3.15" fill="#111"/>
<rect x="490.23" y="508.73" width="3.15" height="3.15" fill="#111"/>
<rect x="490.23" y="518.43" width="3.15" height="3.15" fill="#111"/>
<circle cx="504.30" cy="493.70" r="1.7" fill="#111"/>
<circle cx="504.30" cy="502.60" r="1.7" fill="#111"/>
<circle cx="504.30" cy="506.70" r="1.7" fill="#111"/>
<circle cx="505.50" cy="511.10" r="1.7" fill="#111"/>
<circle cx="504.30" cy="513.90" r="1.7" fill="#111"/>
<circle cx="503.10" cy="522.00" r="1.7" fill="#111"/>
<circle cx="505.90" cy="522.40" r="1.7" fill="#111"/>
<circle cx="504.30" cy="523.60" r="1.7" fill="#111"/>
<line x1="68.75" y1="439.25" x2="93.75" y2="439.25" stroke="#9a9a9a" stroke-width="1.3"/>
<text x="81.25" y="440.00" font-size="7.8" text-anchor="middle" font-weight="normal" fill="#222" stroke="#222" stroke-width="0.2">*</text>
<line x1="68.75" y1="447.50" x2="80.50" y2="447.50" stroke="#9a9a9a" stroke-width="1.3"/>
<text x="74.62" y="448.00" font-size="7.8" text-anchor="middle" font-weight="normal" fill="#222" stroke="#222" stroke-width="0.2">*</text>
<line x1="205.00" y1="439.40" x2="230.00" y2="439.40" stroke="#9a9a9a" stroke-width="1.3"/>
<text x="217.50" y="440.00" font-size="7.8" text-anchor="middle" font-weight="normal" fill="#222" stroke="#222" stroke-width="0.2">**</text>
<line x1="205.00" y1="446.90" x2="216.30" y2="446.90" stroke="#9a9a9a" stroke-width="1.3"/>
<text x="210.65" y="447.00" font-size="7.8" text-anchor="middle" font-weight="normal" fill="#222" stroke="#222" stroke-width="0.2">*</text>
<line x1="250.80" y1="439.60" x2="276.20" y2="439.60" stroke="#9a9a9a" stroke-width="1.3"/>
<text x="263.50" y="440.00" font-size="7.8" text-anchor="middle" font-weight="normal" fill="#222" stroke="#222" stroke-width="0.2">*</text>
<line x1="250.80" y1="447.70" x2="263.20" y2="447.70" stroke="#9a9a9a" stroke-width="1.3"/>
<text x="257.00" y="448.00" font-size="7.8" text-anchor="middle" font-weight="normal" fill="#222" stroke="#222" stroke-width="0.2">*</text>
<line x1="297.20" y1="439.60" x2="321.70" y2="439.60" stroke="#9a9a9a" stroke-width="1.3"/>
<text x="309.45" y="440.00" font-size="7.8" text-anchor="middle" font-weight="normal" fill="#222" stroke="#222" stroke-width="0.2">**</text>
<line x1="297.20" y1="447.70" x2="310.20" y2="447.70" stroke="#9a9a9a" stroke-width="1.3"/>
<text x="303.70" y="448.00" font-size="7.8" text-anchor="middle" font-weight="normal" fill="#222" stroke="#222" stroke-width="0.2">**</text>
<line x1="434.00" y1="438.70" x2="458.80" y2="438.70" stroke="#9a9a9a" stroke-width="1.3"/>
<text x="446.40" y="439.00" font-size="7.8" text-anchor="middle" font-weight="normal" fill="#222" stroke="#222" stroke-width="0.2">****</text>
<line x1="434.00" y1="446.50" x2="446.40" y2="446.50" stroke="#9a9a9a" stroke-width="1.3"/>
<text x="440.20" y="447.00" font-size="7.8" text-anchor="middle" font-weight="normal" fill="#222" stroke="#222" stroke-width="0.2">****</text>
<line x1="481.00" y1="438.70" x2="504.70" y2="438.70" stroke="#9a9a9a" stroke-width="1.3"/>
<text x="492.85" y="439.00" font-size="7.8" text-anchor="middle" font-weight="normal" fill="#222" stroke="#222" stroke-width="0.2">*</text>
<line x1="481.00" y1="446.50" x2="492.60" y2="446.50" stroke="#9a9a9a" stroke-width="1.3"/>
<text x="486.80" y="447.00" font-size="7.8" text-anchor="middle" font-weight="normal" fill="#222" stroke="#222" stroke-width="0.2">*</text>
<text transform="translate(33.00,478.20) rotate(-90)" font-size="10.0" text-anchor="middle" font-weight="normal" fill="#262626" textLength="78.00" lengthAdjust="spacingAndGlyphs" stroke="#262626" stroke-width="0.25">Percent positive of CD4 T</text>
<text x="80.60" y="538.30" font-size="8.4" text-anchor="middle" font-weight="normal" fill="#262626">HLA-DR</text>
<text x="126.30" y="538.30" font-size="8.4" text-anchor="middle" font-weight="normal" fill="#262626">CD38/DR</text>
<text x="172.00" y="538.30" font-size="8.4" text-anchor="middle" font-weight="normal" fill="#262626">CD57</text>
<text x="217.70" y="538.30" font-size="8.4" text-anchor="middle" font-weight="normal" fill="#262626">CD279</text>
<text x="263.40" y="538.30" font-size="8.4" text-anchor="middle" font-weight="normal" fill="#262626">TIGIT</text>
<text x="309.10" y="538.30" font-size="8.4" text-anchor="middle" font-weight="normal" fill="#262626">KI67</text>
<text x="354.80" y="538.30" font-size="8.4" text-anchor="middle" font-weight="normal" fill="#262626">GzmB</text>
<text x="400.50" y="538.30" font-size="8.4" text-anchor="middle" font-weight="normal" fill="#262626">Pfn</text>
<text x="446.20" y="538.30" font-size="8.4" text-anchor="middle" font-weight="normal" fill="#262626">CD183</text>
<text x="491.90" y="538.30" font-size="8.4" text-anchor="middle" font-weight="normal" fill="#262626">CD195</text>
<text x="9.90" y="559.60" font-size="12.8" text-anchor="start" font-weight="bold" fill="#1e1e1e">G</text>
<line x1="60.00" y1="561.50" x2="60.00" y2="652.80" stroke="#222222" stroke-width="1.2"/>
<line x1="57.30" y1="564.50" x2="60.00" y2="564.50" stroke="#222222" stroke-width="1.0"/>
<text x="53.10" y="567.70" font-size="8.4" text-anchor="end" font-weight="normal" fill="#262626">125</text>
<line x1="57.30" y1="582.16" x2="60.00" y2="582.16" stroke="#222222" stroke-width="1.0"/>
<text x="53.10" y="585.36" font-size="8.4" text-anchor="end" font-weight="normal" fill="#262626">100</text>
<line x1="57.30" y1="599.82" x2="60.00" y2="599.82" stroke="#222222" stroke-width="1.0"/>
<text x="53.10" y="603.02" font-size="8.4" text-anchor="end" font-weight="normal" fill="#262626">75</text>
<line x1="57.30" y1="617.48" x2="60.00" y2="617.48" stroke="#222222" stroke-width="1.0"/>
<text x="53.10" y="620.68" font-size="8.4" text-anchor="end" font-weight="normal" fill="#262626">50</text>
<line x1="57.30" y1="635.14" x2="60.00" y2="635.14" stroke="#222222" stroke-width="1.0"/>
<text x="53.10" y="638.34" font-size="8.4" text-anchor="end" font-weight="normal" fill="#262626">25</text>
<line x1="57.30" y1="652.80" x2="60.00" y2="652.80" stroke="#222222" stroke-width="1.0"/>
<text x="53.10" y="656.00" font-size="8.4" text-anchor="end" font-weight="normal" fill="#262626">0</text>
<line x1="59.40" y1="652.80" x2="511.30" y2="652.80" stroke="#222222" stroke-width="1.2"/>
<line x1="80.60" y1="652.80" x2="80.60" y2="655.80" stroke="#222222" stroke-width="1.0"/>
<line x1="126.30" y1="652.80" x2="126.30" y2="655.80" stroke="#222222" stroke-width="1.0"/>
<line x1="172.00" y1="652.80" x2="172.00" y2="655.80" stroke="#222222" stroke-width="1.0"/>
<line x1="217.70" y1="652.80" x2="217.70" y2="655.80" stroke="#222222" stroke-width="1.0"/>
<line x1="263.40" y1="652.80" x2="263.40" y2="655.80" stroke="#222222" stroke-width="1.0"/>
<line x1="309.10" y1="652.80" x2="309.10" y2="655.80" stroke="#222222" stroke-width="1.0"/>
<line x1="354.80" y1="652.80" x2="354.80" y2="655.80" stroke="#222222" stroke-width="1.0"/>
<line x1="400.50" y1="652.80" x2="400.50" y2="655.80" stroke="#222222" stroke-width="1.0"/>
<line x1="446.20" y1="652.80" x2="446.20" y2="655.80" stroke="#222222" stroke-width="1.0"/>
<line x1="491.90" y1="652.80" x2="491.90" y2="655.80" stroke="#222222" stroke-width="1.0"/>
<rect x="64.15" y="641.20" width="7.70" height="11.60" fill="#F8B600"/>
<rect x="76.75" y="633.10" width="7.70" height="19.70" fill="#CB0A2E"/>
<rect x="89.25" y="629.90" width="7.70" height="22.90" fill="#36A6E0"/>
<rect x="109.85" y="650.00" width="7.70" height="2.80" fill="#F8B600"/>
<rect x="122.45" y="634.30" width="7.70" height="18.50" fill="#CB0A2E"/>
<rect x="134.95" y="634.70" width="7.70" height="18.10" fill="#36A6E0"/>
<rect x="155.55" y="650.00" width="7.70" height="2.80" fill="#F8B600"/>
<rect x="168.15" y="629.40" width="7.70" height="23.40" fill="#CB0A2E"/>
<rect x="180.65" y="645.50" width="7.70" height="7.30" fill="#36A6E0"/>
<rect x="201.25" y="641.10" width="7.70" height="11.70" fill="#F8B600"/>
<rect x="213.85" y="629.80" width="7.70" height="23.00" fill="#CB0A2E"/>
<rect x="226.35" y="634.60" width="7.70" height="18.20" fill="#36A6E0"/>
<rect x="246.95" y="638.90" width="7.70" height="13.90" fill="#F8B600"/>
<rect x="259.55" y="642.20" width="7.70" height="10.60" fill="#CB0A2E"/>
<rect x="272.05" y="640.50" width="7.70" height="12.30" fill="#36A6E0"/>
<rect x="292.65" y="651.00" width="7.70" height="1.80" fill="#F8B600"/>
<rect x="305.25" y="644.30" width="7.70" height="8.50" fill="#CB0A2E"/>
<rect x="317.75" y="646.30" width="7.70" height="6.50" fill="#36A6E0"/>
<rect x="338.35" y="625.30" width="7.70" height="27.50" fill="#F8B600"/>
<rect x="350.95" y="592.00" width="7.70" height="60.80" fill="#CB0A2E"/>
<rect x="363.45" y="604.20" width="7.70" height="48.60" fill="#36A6E0"/>
<rect x="384.05" y="641.40" width="7.70" height="11.40" fill="#F8B600"/>
<rect x="396.65" y="609.10" width="7.70" height="43.70" fill="#CB0A2E"/>
<rect x="409.15" y="628.20" width="7.70" height="24.60" fill="#36A6E0"/>
<rect x="429.75" y="628.60" width="7.70" height="24.20" fill="#F8B600"/>
<rect x="442.35" y="651.00" width="7.70" height="1.80" fill="#CB0A2E"/>
<rect x="454.85" y="650.00" width="7.70" height="2.80" fill="#36A6E0"/>
<rect x="475.45" y="651.00" width="7.70" height="1.80" fill="#F8B600"/>
<rect x="488.05" y="645.50" width="7.70" height="7.30" fill="#CB0A2E"/>
<rect x="500.55" y="645.90" width="7.70" height="6.90" fill="#36A6E0"/>
<line x1="68.00" y1="638.00" x2="68.00" y2="641.20" stroke="#3a3a3a" stroke-width="0.9"/>
<line x1="65.90" y1="638.00" x2="70.10" y2="638.00" stroke="#222" stroke-width="1.0"/>
<line x1="80.60" y1="625.80" x2="80.60" y2="633.10" stroke="#3a3a3a" stroke-width="0.9"/>
<line x1="78.50" y1="625.80" x2="82.70" y2="625.80" stroke="#222" stroke-width="1.0"/>
<line x1="93.10" y1="617.00" x2="93.10" y2="629.90" stroke="#3a3a3a" stroke-width="0.9"/>
<line x1="91.00" y1="617.00" x2="95.20" y2="617.00" stroke="#222" stroke-width="1.0"/>
<line x1="126.30" y1="628.00" x2="126.30" y2="634.30" stroke="#3a3a3a" stroke-width="0.9"/>
<line x1="124.20" y1="628.00" x2="128.40" y2="628.00" stroke="#222" stroke-width="1.0"/>
<line x1="138.80" y1="619.40" x2="138.80" y2="634.70" stroke="#3a3a3a" stroke-width="0.9"/>
<line x1="136.70" y1="619.40" x2="140.90" y2="619.40" stroke="#222" stroke-width="1.0"/>
<line x1="172.00" y1="624.00" x2="172.00" y2="629.40" stroke="#3a3a3a" stroke-width="0.9"/>
<line x1="169.90" y1="624.00" x2="174.10" y2="624.00" stroke="#222" stroke-width="1.0"/>
<line x1="184.50" y1="635.40" x2="184.50" y2="645.50" stroke="#3a3a3a" stroke-width="0.9"/>
<line x1="182.40" y1="635.40" x2="186.60" y2="635.40" stroke="#222" stroke-width="1.0"/>
<line x1="205.10" y1="638.30" x2="205.10" y2="641.10" stroke="#3a3a3a" stroke-width="0.9"/>
<line x1="203.00" y1="638.30" x2="207.20" y2="638.30" stroke="#222" stroke-width="1.0"/>
<line x1="217.70" y1="621.30" x2="217.70" y2="629.80" stroke="#3a3a3a" stroke-width="0.9"/>
<line x1="215.60" y1="621.30" x2="219.80" y2="621.30" stroke="#222" stroke-width="1.0"/>
<line x1="230.20" y1="623.30" x2="230.20" y2="634.60" stroke="#3a3a3a" stroke-width="0.9"/>
<line x1="228.10" y1="623.30" x2="232.30" y2="623.30" stroke="#222" stroke-width="1.0"/>
<line x1="263.40" y1="638.00" x2="263.40" y2="642.20" stroke="#3a3a3a" stroke-width="0.9"/>
<line x1="261.30" y1="638.00" x2="265.50" y2="638.00" stroke="#222" stroke-width="1.0"/>
<line x1="275.90" y1="626.40" x2="275.90" y2="640.50" stroke="#3a3a3a" stroke-width="0.9"/>
<line x1="273.80" y1="626.40" x2="278.00" y2="626.40" stroke="#222" stroke-width="1.0"/>
<line x1="309.10" y1="637.00" x2="309.10" y2="644.30" stroke="#3a3a3a" stroke-width="0.9"/>
<line x1="307.00" y1="637.00" x2="311.20" y2="637.00" stroke="#222" stroke-width="1.0"/>
<line x1="321.60" y1="639.50" x2="321.60" y2="646.30" stroke="#3a3a3a" stroke-width="0.9"/>
<line x1="319.50" y1="639.50" x2="323.70" y2="639.50" stroke="#222" stroke-width="1.0"/>
<line x1="342.20" y1="609.50" x2="342.20" y2="625.30" stroke="#3a3a3a" stroke-width="0.9"/>
<line x1="340.10" y1="609.50" x2="344.30" y2="609.50" stroke="#222" stroke-width="1.0"/>
<line x1="354.80" y1="584.90" x2="354.80" y2="592.00" stroke="#3a3a3a" stroke-width="0.9"/>
<line x1="352.70" y1="584.90" x2="356.90" y2="584.90" stroke="#222" stroke-width="1.0"/>
<line x1="367.30" y1="592.00" x2="367.30" y2="604.20" stroke="#3a3a3a" stroke-width="0.9"/>
<line x1="365.20" y1="592.00" x2="369.40" y2="592.00" stroke="#222" stroke-width="1.0"/>
<line x1="387.90" y1="632.10" x2="387.90" y2="641.40" stroke="#3a3a3a" stroke-width="0.9"/>
<line x1="385.80" y1="632.10" x2="390.00" y2="632.10" stroke="#222" stroke-width="1.0"/>
<line x1="400.50" y1="593.70" x2="400.50" y2="609.10" stroke="#3a3a3a" stroke-width="0.9"/>
<line x1="398.40" y1="593.70" x2="402.60" y2="593.70" stroke="#222" stroke-width="1.0"/>
<line x1="413.00" y1="611.20" x2="413.00" y2="628.20" stroke="#3a3a3a" stroke-width="0.9"/>
<line x1="410.90" y1="611.20" x2="415.10" y2="611.20" stroke="#222" stroke-width="1.0"/>
<line x1="433.60" y1="620.10" x2="433.60" y2="628.60" stroke="#3a3a3a" stroke-width="0.9"/>
<line x1="431.50" y1="620.10" x2="435.70" y2="620.10" stroke="#222" stroke-width="1.0"/>
<line x1="491.90" y1="640.00" x2="491.90" y2="645.50" stroke="#3a3a3a" stroke-width="0.9"/>
<line x1="489.80" y1="640.00" x2="494.00" y2="640.00" stroke="#222" stroke-width="1.0"/>
<line x1="504.40" y1="637.10" x2="504.40" y2="645.90" stroke="#3a3a3a" stroke-width="0.9"/>
<line x1="502.30" y1="637.10" x2="506.50" y2="637.10" stroke="#222" stroke-width="1.0"/>
<path d="M65.70 635.76L67.66 639.50L63.75 639.50Z" fill="#111"/>
<path d="M67.70 635.36L69.66 639.10L65.75 639.10Z" fill="#111"/>
<path d="M70.10 635.76L72.05 639.50L68.14 639.50Z" fill="#111"/>
<path d="M67.70 638.96L69.66 642.70L65.75 642.70Z" fill="#111"/>
<path d="M65.70 641.76L67.66 645.50L63.75 645.50Z" fill="#111"/>
<path d="M70.50 641.76L72.45 645.50L68.55 645.50Z" fill="#111"/>
<rect x="76.23" y="625.93" width="3.15" height="3.15" fill="#111"/>
<rect x="81.43" y="623.43" width="3.15" height="3.15" fill="#111"/>
<rect x="79.03" y="634.73" width="3.15" height="3.15" fill="#111"/>
<rect x="79.03" y="639.23" width="3.15" height="3.15" fill="#111"/>
<circle cx="92.70" cy="607.70" r="1.7" fill="#111"/>
<circle cx="90.70" cy="617.00" r="1.7" fill="#111"/>
<circle cx="95.50" cy="620.20" r="1.7" fill="#111"/>
<circle cx="90.70" cy="621.20" r="1.7" fill="#111"/>
<circle cx="95.10" cy="628.30" r="1.7" fill="#111"/>
<circle cx="90.70" cy="630.70" r="1.7" fill="#111"/>
<circle cx="90.70" cy="635.50" r="1.7" fill="#111"/>
<circle cx="95.10" cy="635.50" r="1.7" fill="#111"/>
<circle cx="90.70" cy="646.00" r="1.7" fill="#111"/>
<circle cx="95.10" cy="645.60" r="1.7" fill="#111"/>
<path d="M111.50 647.76L113.45 651.50L109.55 651.50Z" fill="#111"/>
<path d="M113.50 645.76L115.45 649.50L111.55 649.50Z" fill="#111"/>
<path d="M115.50 646.26L117.45 650.00L113.55 650.00Z" fill="#111"/>
<path d="M116.50 648.26L118.45 652.00L114.55 652.00Z" fill="#111"/>
<rect x="124.43" y="624.13" width="3.15" height="3.15" fill="#111"/>
<rect x="124.43" y="629.13" width="3.15" height="3.15" fill="#111"/>
<rect x="124.43" y="634.73" width="3.15" height="3.15" fill="#111"/>
<rect x="124.43" y="640.83" width="3.15" height="3.15" fill="#111"/>
<circle cx="138.60" cy="604.40" r="1.7" fill="#111"/>
<circle cx="138.60" cy="617.00" r="1.7" fill="#111"/>
<circle cx="138.60" cy="623.80" r="1.7" fill="#111"/>
<circle cx="138.60" cy="635.50" r="1.7" fill="#111"/>
<circle cx="135.90" cy="640.00" r="1.7" fill="#111"/>
<circle cx="139.50" cy="639.20" r="1.7" fill="#111"/>
<circle cx="141.60" cy="640.00" r="1.7" fill="#111"/>
<circle cx="137.90" cy="646.80" r="1.7" fill="#111"/>
<circle cx="137.90" cy="648.10" r="1.7" fill="#111"/>
<path d="M157.50 648.26L159.46 652.00L155.54 652.00Z" fill="#111"/>
<path d="M159.00 645.76L160.96 649.50L157.04 649.50Z" fill="#111"/>
<path d="M161.00 646.26L162.96 650.00L159.04 650.00Z" fill="#111"/>
<path d="M162.00 648.76L163.96 652.50L160.04 652.50Z" fill="#111"/>
<rect x="170.03" y="622.13" width="3.15" height="3.15" fill="#111"/>
<rect x="167.43" y="625.43" width="3.15" height="3.15" fill="#111"/>
<rect x="172.63" y="628.23" width="3.15" height="3.15" fill="#111"/>
<rect x="170.03" y="636.73" width="3.15" height="3.15" fill="#111"/>
<circle cx="184.10" cy="623.70" r="1.7" fill="#111"/>
<circle cx="184.10" cy="635.80" r="1.7" fill="#111"/>
<circle cx="182.30" cy="641.10" r="1.7" fill="#111"/>
<circle cx="184.10" cy="640.30" r="1.7" fill="#111"/>
<circle cx="185.50" cy="642.30" r="1.7" fill="#111"/>
<circle cx="181.50" cy="652.40" r="1.7" fill="#111"/>
<circle cx="184.70" cy="652.40" r="1.7" fill="#111"/>
<circle cx="186.80" cy="652.40" r="1.7" fill="#111"/>
<path d="M202.10 635.66L204.06 639.40L200.14 639.40Z" fill="#111"/>
<path d="M205.30 636.86L207.26 640.60L203.34 640.60Z" fill="#111"/>
<path d="M207.70 638.46L209.66 642.20L205.74 642.20Z" fill="#111"/>
<path d="M202.50 640.86L204.46 644.60L200.54 644.60Z" fill="#111"/>
<path d="M207.30 642.46L209.26 646.20L205.34 646.20Z" fill="#111"/>
<path d="M202.10 644.96L204.06 648.70L200.14 648.70Z" fill="#111"/>
<rect x="213.03" y="620.53" width="3.15" height="3.15" fill="#111"/>
<rect x="215.43" y="619.73" width="3.15" height="3.15" fill="#111"/>
<rect x="218.23" y="619.73" width="3.15" height="3.15" fill="#111"/>
<rect x="215.63" y="632.23" width="3.15" height="3.15" fill="#111"/>
<rect x="215.63" y="637.13" width="3.15" height="3.15" fill="#111"/>
<circle cx="229.50" cy="616.10" r="1.7" fill="#111"/>
<circle cx="230.70" cy="620.10" r="1.7" fill="#111"/>
<circle cx="228.30" cy="621.70" r="1.7" fill="#111"/>
<circle cx="229.50" cy="627.00" r="1.7" fill="#111"/>
<circle cx="227.10" cy="637.50" r="1.7" fill="#111"/>
<circle cx="231.90" cy="635.80" r="1.7" fill="#111"/>
<circle cx="229.50" cy="639.90" r="1.7" fill="#111"/>
<circle cx="231.90" cy="646.30" r="1.7" fill="#111"/>
<circle cx="229.10" cy="646.80" r="1.7" fill="#111"/>
<circle cx="227.10" cy="648.80" r="1.7" fill="#111"/>
<path d="M248.10 635.86L250.06 639.60L246.14 639.60Z" fill="#111"/>
<path d="M250.50 635.46L252.46 639.20L248.54 639.20Z" fill="#111"/>
<path d="M252.90 635.86L254.86 639.60L250.94 639.60Z" fill="#111"/>
<path d="M252.50 639.56L254.46 643.30L250.54 643.30Z" fill="#111"/>
<path d="M248.10 642.36L250.06 646.10L246.14 646.10Z" fill="#111"/>
<rect x="261.03" y="635.33" width="3.15" height="3.15" fill="#111"/>
<rect x="261.03" y="638.13" width="3.15" height="3.15" fill="#111"/>
<rect x="258.63" y="643.43" width="3.15" height="3.15" fill="#111"/>
<rect x="263.83" y="642.63" width="3.15" height="3.15" fill="#111"/>
<rect x="261.03" y="644.63" width="3.15" height="3.15" fill="#111"/>
<circle cx="275.30" cy="612.10" r="1.7" fill="#111"/>
<circle cx="277.50" cy="631.70" r="1.7" fill="#111"/>
<circle cx="274.30" cy="633.70" r="1.7" fill="#111"/>
<circle cx="273.10" cy="637.70" r="1.7" fill="#111"/>
<circle cx="276.70" cy="637.30" r="1.7" fill="#111"/>
<circle cx="275.50" cy="639.70" r="1.7" fill="#111"/>
<circle cx="273.10" cy="641.30" r="1.7" fill="#111"/>
<circle cx="277.90" cy="641.30" r="1.7" fill="#111"/>
<circle cx="273.10" cy="643.40" r="1.7" fill="#111"/>
<path d="M294.50 647.36L296.45 651.10L292.55 651.10Z" fill="#111"/>
<path d="M296.10 648.56L298.06 652.30L294.15 652.30Z" fill="#111"/>
<path d="M298.10 649.76L300.06 653.50L296.15 653.50Z" fill="#111"/>
<path d="M293.70 649.76L295.65 653.50L291.75 653.50Z" fill="#111"/>
<rect x="304.23" y="636.73" width="3.15" height="3.15" fill="#111"/>
<rect x="306.63" y="635.13" width="3.15" height="3.15" fill="#111"/>
<rect x="309.43" y="633.83" width="3.15" height="3.15" fill="#111"/>
<rect x="307.03" y="648.03" width="3.15" height="3.15" fill="#111"/>
<rect x="304.63" y="649.63" width="3.15" height="3.15" fill="#111"/>
<rect x="309.83" y="648.83" width="3.15" height="3.15" fill="#111"/>
<circle cx="321.00" cy="631.80" r="1.7" fill="#111"/>
<circle cx="319.90" cy="639.90" r="1.7" fill="#111"/>
<circle cx="321.10" cy="641.90" r="1.7" fill="#111"/>
<circle cx="321.90" cy="644.70" r="1.7" fill="#111"/>
<circle cx="320.30" cy="647.20" r="1.7" fill="#111"/>
<circle cx="318.70" cy="651.20" r="1.7" fill="#111"/>
<circle cx="322.70" cy="651.20" r="1.7" fill="#111"/>
<path d="M341.80 604.96L343.75 608.70L339.85 608.70Z" fill="#111"/>
<path d="M341.80 613.66L343.75 617.40L339.85 617.40Z" fill="#111"/>
<path d="M341.80 620.76L343.75 624.50L339.85 624.50Z" fill="#111"/>
<path d="M339.30 638.86L341.25 642.60L337.35 642.60Z" fill="#111"/>
<path d="M344.50 636.86L346.45 640.60L342.55 640.60Z" fill="#111"/>
<rect x="349.73" y="586.33" width="3.15" height="3.15" fill="#111"/>
<rect x="352.93" y="584.53" width="3.15" height="3.15" fill="#111"/>
<rect x="355.83" y="583.33" width="3.15" height="3.15" fill="#111"/>
<rect x="354.03" y="588.03" width="3.15" height="3.15" fill="#111"/>
<rect x="352.93" y="600.13" width="3.15" height="3.15" fill="#111"/>
<circle cx="366.70" cy="583.80" r="1.7" fill="#111"/>
<circle cx="363.80" cy="596.60" r="1.7" fill="#111"/>
<circle cx="366.70" cy="596.10" r="1.7" fill="#111"/>
<circle cx="369.10" cy="596.60" r="1.7" fill="#111"/>
<circle cx="364.40" cy="604.80" r="1.7" fill="#111"/>
<circle cx="367.90" cy="606.00" r="1.7" fill="#111"/>
<circle cx="369.10" cy="613.60" r="1.7" fill="#111"/>
<circle cx="366.70" cy="615.90" r="1.7" fill="#111"/>
<circle cx="366.70" cy="623.00" r="1.7" fill="#111"/>
<path d="M385.50 630.16L387.45 633.90L383.55 633.90Z" fill="#111"/>
<path d="M390.10 632.36L392.06 636.10L388.15 636.10Z" fill="#111"/>
<path d="M387.50 637.56L389.45 641.30L385.55 641.30Z" fill="#111"/>
<path d="M384.90 649.06L386.85 652.80L382.94 652.80Z" fill="#111"/>
<path d="M389.90 647.36L391.85 651.10L387.94 651.10Z" fill="#111"/>
<rect x="398.13" y="592.13" width="3.15" height="3.15" fill="#111"/>
<rect x="398.13" y="598.73" width="3.15" height="3.15" fill="#111"/>
<rect x="398.13" y="614.03" width="3.15" height="3.15" fill="#111"/>
<rect x="398.13" y="620.63" width="3.15" height="3.15" fill="#111"/>
<circle cx="412.10" cy="590.10" r="1.7" fill="#111"/>
<circle cx="412.90" cy="618.90" r="1.7" fill="#111"/>
<circle cx="411.30" cy="619.50" r="1.7" fill="#111"/>
<circle cx="412.10" cy="625.00" r="1.7" fill="#111"/>
<circle cx="411.30" cy="628.80" r="1.7" fill="#111"/>
<circle cx="414.00" cy="629.30" r="1.7" fill="#111"/>
<circle cx="409.60" cy="632.60" r="1.7" fill="#111"/>
<circle cx="414.50" cy="633.20" r="1.7" fill="#111"/>
<circle cx="412.10" cy="643.00" r="1.7" fill="#111"/>
<circle cx="412.10" cy="648.00" r="1.7" fill="#111"/>
<path d="M433.10 613.46L435.06 617.20L431.15 617.20Z" fill="#111"/>
<path d="M430.40 626.76L432.35 630.50L428.44 630.50Z" fill="#111"/>
<path d="M435.70 626.36L437.65 630.10L433.75 630.10Z" fill="#111"/>
<path d="M435.70 630.36L437.65 634.10L433.75 634.10Z" fill="#111"/>
<path d="M430.40 632.76L432.35 636.50L428.44 636.50Z" fill="#111"/>
<rect x="441.43" y="649.43" width="3.15" height="3.15" fill="#111"/>
<rect x="443.93" y="647.93" width="3.15" height="3.15" fill="#111"/>
<rect x="446.43" y="649.43" width="3.15" height="3.15" fill="#111"/>
<rect x="444.43" y="650.93" width="3.15" height="3.15" fill="#111"/>
<circle cx="457.90" cy="643.10" r="1.7" fill="#111"/>
<circle cx="457.10" cy="647.60" r="1.7" fill="#111"/>
<circle cx="455.90" cy="650.40" r="1.7" fill="#111"/>
<circle cx="458.30" cy="650.00" r="1.7" fill="#111"/>
<circle cx="459.90" cy="651.20" r="1.7" fill="#111"/>
<circle cx="457.10" cy="652.40" r="1.7" fill="#111"/>
<path d="M477.30 647.76L479.25 651.50L475.35 651.50Z" fill="#111"/>
<path d="M479.30 647.36L481.25 651.10L477.35 651.10Z" fill="#111"/>
<path d="M480.90 648.96L482.85 652.70L478.94 652.70Z" fill="#111"/>
<path d="M476.00 649.36L477.95 653.10L474.05 653.10Z" fill="#111"/>
<rect x="489.83" y="636.33" width="3.15" height="3.15" fill="#111"/>
<rect x="487.03" y="641.53" width="3.15" height="3.15" fill="#111"/>
<rect x="489.43" y="642.33" width="3.15" height="3.15" fill="#111"/>
<rect x="491.83" y="644.73" width="3.15" height="3.15" fill="#111"/>
<rect x="487.43" y="649.63" width="3.15" height="3.15" fill="#111"/>
<rect x="490.63" y="649.23" width="3.15" height="3.15" fill="#111"/>
<circle cx="503.50" cy="630.60" r="1.7" fill="#111"/>
<circle cx="503.50" cy="634.20" r="1.7" fill="#111"/>
<circle cx="506.30" cy="640.70" r="1.7" fill="#111"/>
<circle cx="505.10" cy="641.90" r="1.7" fill="#111"/>
<circle cx="502.70" cy="643.10" r="1.7" fill="#111"/>
<circle cx="501.50" cy="648.00" r="1.7" fill="#111"/>
<circle cx="503.90" cy="649.60" r="1.7" fill="#111"/>
<circle cx="505.90" cy="651.20" r="1.7" fill="#111"/>
<circle cx="502.70" cy="652.40" r="1.7" fill="#111"/>
<line x1="114.30" y1="568.40" x2="138.50" y2="568.40" stroke="#9a9a9a" stroke-width="1.3"/>
<text x="126.40" y="569.00" font-size="7.8" text-anchor="middle" font-weight="normal" fill="#222" stroke="#222" stroke-width="0.2">**</text>
<line x1="114.30" y1="576.50" x2="126.10" y2="576.50" stroke="#9a9a9a" stroke-width="1.3"/>
<text x="120.20" y="577.00" font-size="7.8" text-anchor="middle" font-weight="normal" fill="#222" stroke="#222" stroke-width="0.2">**</text>
<line x1="160.00" y1="568.40" x2="184.30" y2="568.40" stroke="#9a9a9a" stroke-width="1.3"/>
<text x="172.15" y="569.00" font-size="7.8" text-anchor="middle" font-weight="normal" fill="#222" stroke="#222" stroke-width="0.2">**</text>
<line x1="160.00" y1="576.50" x2="172.20" y2="576.50" stroke="#9a9a9a" stroke-width="1.3"/>
<text x="166.10" y="577.00" font-size="7.8" text-anchor="middle" font-weight="normal" fill="#222" stroke="#222" stroke-width="0.2">**</text>
<line x1="341.90" y1="565.80" x2="366.10" y2="565.80" stroke="#9a9a9a" stroke-width="1.3"/>
<text x="354.00" y="566.00" font-size="7.8" text-anchor="middle" font-weight="normal" fill="#222" stroke="#222" stroke-width="0.2">**</text>
<line x1="341.90" y1="573.80" x2="353.50" y2="573.80" stroke="#9a9a9a" stroke-width="1.3"/>
<text x="347.70" y="574.00" font-size="7.8" text-anchor="middle" font-weight="normal" fill="#222" stroke="#222" stroke-width="0.2">***</text>
<line x1="387.90" y1="568.10" x2="412.40" y2="568.10" stroke="#9a9a9a" stroke-width="1.3"/>
<text x="400.15" y="569.00" font-size="7.8" text-anchor="middle" font-weight="normal" fill="#222" stroke="#222" stroke-width="0.2">*</text>
<line x1="387.90" y1="576.20" x2="399.70" y2="576.20" stroke="#9a9a9a" stroke-width="1.3"/>
<text x="393.80" y="577.00" font-size="7.8" text-anchor="middle" font-weight="normal" fill="#222" stroke="#222" stroke-width="0.2">**</text>
<line x1="433.50" y1="567.20" x2="458.00" y2="567.20" stroke="#9a9a9a" stroke-width="1.3"/>
<text x="445.75" y="568.00" font-size="7.8" text-anchor="middle" font-weight="normal" fill="#222" stroke="#222" stroke-width="0.2">****</text>
<line x1="433.50" y1="575.30" x2="445.60" y2="575.30" stroke="#9a9a9a" stroke-width="1.3"/>
<text x="439.55" y="576.00" font-size="7.8" text-anchor="middle" font-weight="normal" fill="#222" stroke="#222" stroke-width="0.2">****</text>
<text transform="translate(33.00,607.20) rotate(-90)" font-size="10.0" text-anchor="middle" font-weight="normal" fill="#262626" textLength="79.00" lengthAdjust="spacingAndGlyphs" stroke="#262626" stroke-width="0.25">Percent positive of CD8 T</text>
<text x="80.60" y="667.80" font-size="8.4" text-anchor="middle" font-weight="normal" fill="#262626">HLA-DR</text>
<text x="126.30" y="667.80" font-size="8.4" text-anchor="middle" font-weight="normal" fill="#262626">CD38/DR</text>
<text x="172.00" y="667.80" font-size="8.4" text-anchor="middle" font-weight="normal" fill="#262626">CD57</text>
<text x="217.70" y="667.80" font-size="8.4" text-anchor="middle" font-weight="normal" fill="#262626">CD279</text>
<text x="263.40" y="667.80" font-size="8.4" text-anchor="middle" font-weight="normal" fill="#262626">TIGIT</text>
<text x="309.10" y="667.80" font-size="8.4" text-anchor="middle" font-weight="normal" fill="#262626">KI67</text>
<text x="354.80" y="667.80" font-size="8.4" text-anchor="middle" font-weight="normal" fill="#262626">GzmB</text>
<text x="400.50" y="667.80" font-size="8.4" text-anchor="middle" font-weight="normal" fill="#262626">Pfn</text>
<text x="446.20" y="667.80" font-size="8.4" text-anchor="middle" font-weight="normal" fill="#262626">CD183</text>
<text x="491.90" y="667.80" font-size="8.4" text-anchor="middle" font-weight="normal" fill="#262626">CD195</text>
<rect x="133.10" y="678.90" width="11.00" height="4.90" fill="#F8B600"/>
<text x="149.60" y="683.70" font-size="7.0" text-anchor="start" font-weight="normal" fill="#262626" textLength="66.00" lengthAdjust="spacingAndGlyphs">Healthy donor (HD)</text>
<rect x="225.80" y="678.90" width="10.80" height="4.90" fill="#CB0A2E"/>
<text x="241.90" y="683.70" font-size="7.0" text-anchor="start" font-weight="normal" fill="#262626" textLength="84.60" lengthAdjust="spacingAndGlyphs">Complete response (CR)</text>
<rect x="337.40" y="678.90" width="10.80" height="4.90" fill="#36A6E0"/>
<text x="352.80" y="683.70" font-size="7.0" text-anchor="start" font-weight="normal" fill="#262626" textLength="85.70" lengthAdjust="spacingAndGlyphs">Progressive disease (PD)</text>
<rect x="0" y="0" width="520" height="1" fill="#505050"/>
<rect x="0" y="0" width="1.05" height="693" fill="#505050"/>
<rect x="518.8" y="0" width="1.2" height="693" fill="#505050"/>
<rect x="0" y="691.6" width="520" height="1.4" fill="#505050"/>
</svg>
</body></html>
